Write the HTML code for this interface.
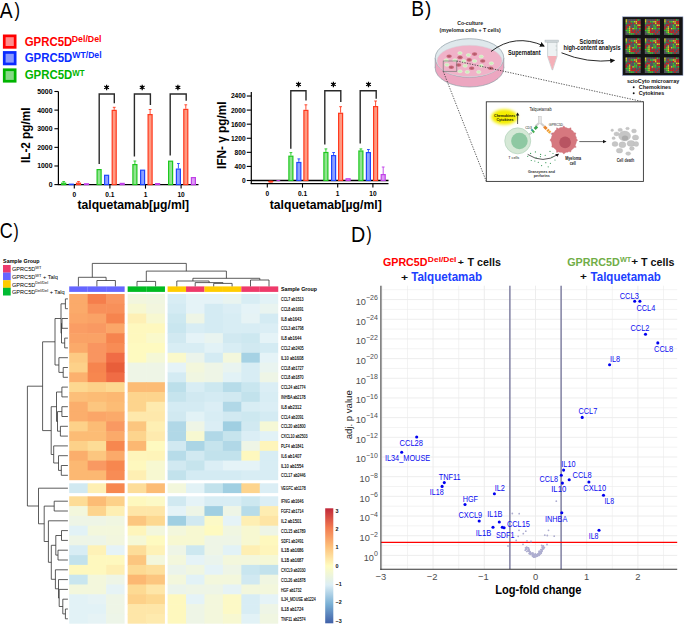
<!DOCTYPE html>
<html><head><meta charset="utf-8"><style>
html,body{margin:0;padding:0;background:#fff;}
body{width:685px;height:624px;overflow:hidden;}
svg{display:block;font-family:"Liberation Sans", sans-serif;}
</style></head><body>
<svg width="685" height="624" viewBox="0 0 685 624">
<text x="0" y="0" font-size="22.09" fill="#000" transform="translate(-0.24,17.50) scale(0.8737,1)">A</text>
<text x="0" y="0" font-size="19.88" fill="#000" transform="translate(14.50,17.40) scale(0.8346,1)">)</text>
<rect x="4.25" y="35.85" width="10.90" height="11.50" fill="#ff8c8c" stroke="#ff0000" stroke-width="2.7"/>
<text x="0" y="0" font-size="13.23" fill="#ff0000" font-weight="bold" transform="translate(24.73,45.80) scale(0.8644,1)">GPRC5D</text>
<text x="0" y="0" font-size="8.43" fill="#ff0000" font-weight="bold" transform="translate(71.71,41.60) scale(1.0467,1)">Del/Del</text>
<rect x="4.25" y="52.45" width="10.90" height="11.50" fill="#8a9aff" stroke="#0a2cff" stroke-width="2.7"/>
<text x="0" y="0" font-size="13.23" fill="#0a2cff" font-weight="bold" transform="translate(24.73,62.10) scale(0.8644,1)">GPRC5D</text>
<text x="0" y="0" font-size="8.43" fill="#0a2cff" font-weight="bold" transform="translate(72.29,58.00) scale(1.0264,1)">WT/Del</text>
<rect x="4.25" y="69.75" width="10.90" height="11.50" fill="#86d886" stroke="#00b400" stroke-width="2.7"/>
<text x="0" y="0" font-size="13.23" fill="#00b400" font-weight="bold" transform="translate(24.73,79.40) scale(0.8644,1)">GPRC5D</text>
<text x="0" y="0" font-size="8.43" fill="#00b400" font-weight="bold" transform="translate(72.29,75.90) scale(0.9379,1)">WT</text>
<line x1="58.40" y1="91.50" x2="58.40" y2="185.10" stroke="#000" stroke-width="1.2"/>
<line x1="57.80" y1="184.60" x2="198.50" y2="184.60" stroke="#000" stroke-width="1.3"/>
<line x1="54.40" y1="184.60" x2="58.40" y2="184.60" stroke="#000" stroke-width="1.1"/>
<text x="52.50" y="187.00" font-size="6.9" fill="#000" font-weight="bold" text-anchor="end">0</text>
<line x1="54.40" y1="165.98" x2="58.40" y2="165.98" stroke="#000" stroke-width="1.1"/>
<text x="52.50" y="168.38" font-size="6.9" fill="#000" font-weight="bold" text-anchor="end">1000</text>
<line x1="54.40" y1="147.36" x2="58.40" y2="147.36" stroke="#000" stroke-width="1.1"/>
<text x="52.50" y="149.76" font-size="6.9" fill="#000" font-weight="bold" text-anchor="end">2000</text>
<line x1="54.40" y1="128.74" x2="58.40" y2="128.74" stroke="#000" stroke-width="1.1"/>
<text x="52.50" y="131.14" font-size="6.9" fill="#000" font-weight="bold" text-anchor="end">3000</text>
<line x1="54.40" y1="110.12" x2="58.40" y2="110.12" stroke="#000" stroke-width="1.1"/>
<text x="52.50" y="112.52" font-size="6.9" fill="#000" font-weight="bold" text-anchor="end">4000</text>
<line x1="54.40" y1="91.50" x2="58.40" y2="91.50" stroke="#000" stroke-width="1.1"/>
<text x="52.50" y="93.90" font-size="6.9" fill="#000" font-weight="bold" text-anchor="end">5000</text>
<line x1="74.30" y1="184.60" x2="74.30" y2="188.60" stroke="#000" stroke-width="1.1"/>
<text x="74.30" y="196.50" font-size="6.6" fill="#000" font-weight="bold" text-anchor="middle">0</text>
<line x1="109.90" y1="184.60" x2="109.90" y2="188.60" stroke="#000" stroke-width="1.1"/>
<text x="109.90" y="196.50" font-size="6.6" fill="#000" font-weight="bold" text-anchor="middle">0.1</text>
<line x1="145.50" y1="184.60" x2="145.50" y2="188.60" stroke="#000" stroke-width="1.1"/>
<text x="145.50" y="196.50" font-size="6.6" fill="#000" font-weight="bold" text-anchor="middle">1</text>
<line x1="181.10" y1="184.60" x2="181.10" y2="188.60" stroke="#000" stroke-width="1.1"/>
<text x="181.10" y="196.50" font-size="6.6" fill="#000" font-weight="bold" text-anchor="middle">10</text>
<text x="0" y="0" font-size="11.92" fill="#000" font-weight="bold" transform="translate(77.45,209.20) scale(1.0212,1)">talquetamab[µg/ml]</text>
<text x="0" y="0" font-size="12.94" fill="#000" font-weight="bold" transform="translate(30.10,162.99) rotate(-90) scale(0.9072,1)">IL-2 pg/ml</text>
<rect x="61.70" y="183.20" width="4.00" height="1.40" fill="#8fe48f" stroke="#1ec81e" stroke-width="1.2"/>
<line x1="63.70" y1="182.60" x2="63.70" y2="181.60" stroke="#1ec81e" stroke-width="0.9"/>
<line x1="62.30" y1="181.60" x2="65.10" y2="181.60" stroke="#1ec81e" stroke-width="0.9"/>
<rect x="69.30" y="184.20" width="4.00" height="0.40" fill="#8da0ff" stroke="#1f46ff" stroke-width="1.2"/>
<rect x="76.50" y="183.20" width="4.00" height="1.40" fill="#ff9a82" stroke="#ff3a1e" stroke-width="1.2"/>
<line x1="78.50" y1="182.60" x2="78.50" y2="181.60" stroke="#ff3a1e" stroke-width="0.9"/>
<line x1="77.10" y1="181.60" x2="79.90" y2="181.60" stroke="#ff3a1e" stroke-width="0.9"/>
<rect x="84.50" y="183.80" width="4.00" height="0.80" fill="#dc9cf4" stroke="#c040e8" stroke-width="1.2"/>
<rect x="97.10" y="169.60" width="4.00" height="15.00" fill="#8fe48f" stroke="#1ec81e" stroke-width="1.2"/>
<rect x="104.60" y="175.30" width="4.00" height="9.30" fill="#8da0ff" stroke="#1f46ff" stroke-width="1.2"/>
<rect x="112.20" y="110.40" width="4.00" height="74.20" fill="#ff9a82" stroke="#ff3a1e" stroke-width="1.2"/>
<line x1="114.20" y1="109.80" x2="114.20" y2="107.30" stroke="#ff3a1e" stroke-width="0.9"/>
<line x1="112.80" y1="107.30" x2="115.60" y2="107.30" stroke="#ff3a1e" stroke-width="0.9"/>
<rect x="120.20" y="183.40" width="4.00" height="1.20" fill="#dc9cf4" stroke="#c040e8" stroke-width="1.2"/>
<rect x="132.90" y="164.60" width="4.00" height="20.00" fill="#8fe48f" stroke="#1ec81e" stroke-width="1.2"/>
<line x1="134.90" y1="164.00" x2="134.90" y2="161.00" stroke="#1ec81e" stroke-width="0.9"/>
<line x1="133.50" y1="161.00" x2="136.30" y2="161.00" stroke="#1ec81e" stroke-width="0.9"/>
<rect x="140.60" y="170.20" width="4.00" height="14.40" fill="#8da0ff" stroke="#1f46ff" stroke-width="1.2"/>
<rect x="148.10" y="114.60" width="4.00" height="70.00" fill="#ff9a82" stroke="#ff3a1e" stroke-width="1.2"/>
<line x1="150.10" y1="114.00" x2="150.10" y2="109.50" stroke="#ff3a1e" stroke-width="0.9"/>
<line x1="148.70" y1="109.50" x2="151.50" y2="109.50" stroke="#ff3a1e" stroke-width="0.9"/>
<rect x="155.60" y="183.60" width="4.00" height="1.00" fill="#dc9cf4" stroke="#c040e8" stroke-width="1.2"/>
<rect x="168.60" y="161.20" width="4.00" height="23.40" fill="#8fe48f" stroke="#1ec81e" stroke-width="1.2"/>
<rect x="176.40" y="169.10" width="4.00" height="15.50" fill="#8da0ff" stroke="#1f46ff" stroke-width="1.2"/>
<line x1="178.40" y1="168.50" x2="178.40" y2="163.50" stroke="#1f46ff" stroke-width="0.9"/>
<line x1="177.00" y1="163.50" x2="179.80" y2="163.50" stroke="#1f46ff" stroke-width="0.9"/>
<rect x="183.80" y="109.40" width="4.00" height="75.20" fill="#ff9a82" stroke="#ff3a1e" stroke-width="1.2"/>
<line x1="185.80" y1="108.80" x2="185.80" y2="104.80" stroke="#ff3a1e" stroke-width="0.9"/>
<line x1="184.40" y1="104.80" x2="187.20" y2="104.80" stroke="#ff3a1e" stroke-width="0.9"/>
<rect x="191.40" y="177.60" width="4.00" height="7.00" fill="#dc9cf4" stroke="#c040e8" stroke-width="1.2"/>
<path d="M99.2,164.0 V94.0 H114.3 V103.3" stroke="#2a2a2a" stroke-width="1.4" fill="none"/>
<path d="M106.60,84.65 L106.60,90.15 M108.98,86.03 L104.22,88.78 M108.98,88.78 L104.22,86.03 " stroke="#000" stroke-width="1.25" fill="none"/>
<circle cx="106.60" cy="87.40" r="1.3" fill="#000"/>
<path d="M134.4,156.5 V94.0 H150.4 V105.0" stroke="#2a2a2a" stroke-width="1.4" fill="none"/>
<path d="M142.20,84.65 L142.20,90.15 M144.58,86.03 L139.82,88.78 M144.58,88.78 L139.82,86.03 " stroke="#000" stroke-width="1.25" fill="none"/>
<circle cx="142.20" cy="87.40" r="1.3" fill="#000"/>
<path d="M170.2,155.5 V94.0 H186.2 V100.8" stroke="#2a2a2a" stroke-width="1.4" fill="none"/>
<path d="M177.90,84.65 L177.90,90.15 M180.28,86.03 L175.52,88.78 M180.28,88.78 L175.52,86.03 " stroke="#000" stroke-width="1.25" fill="none"/>
<circle cx="177.90" cy="87.40" r="1.3" fill="#000"/>
<line x1="251.30" y1="92.00" x2="251.30" y2="184.10" stroke="#000" stroke-width="1.2"/>
<line x1="250.70" y1="183.60" x2="388.50" y2="183.60" stroke="#000" stroke-width="1.2"/>
<line x1="251.30" y1="180.50" x2="388.50" y2="180.50" stroke="#000" stroke-width="1.5"/>
<line x1="246.80" y1="180.50" x2="251.30" y2="180.50" stroke="#000" stroke-width="1.1"/>
<text x="245.60" y="182.90" font-size="6.6" fill="#000" font-weight="bold" text-anchor="end">0</text>
<line x1="246.80" y1="166.42" x2="251.30" y2="166.42" stroke="#000" stroke-width="1.1"/>
<text x="245.60" y="168.82" font-size="6.6" fill="#000" font-weight="bold" text-anchor="end">400</text>
<line x1="246.80" y1="152.34" x2="251.30" y2="152.34" stroke="#000" stroke-width="1.1"/>
<text x="245.60" y="154.74" font-size="6.6" fill="#000" font-weight="bold" text-anchor="end">800</text>
<line x1="246.80" y1="138.26" x2="251.30" y2="138.26" stroke="#000" stroke-width="1.1"/>
<text x="245.60" y="140.66" font-size="6.6" fill="#000" font-weight="bold" text-anchor="end">1200</text>
<line x1="246.80" y1="124.18" x2="251.30" y2="124.18" stroke="#000" stroke-width="1.1"/>
<text x="245.60" y="126.58" font-size="6.6" fill="#000" font-weight="bold" text-anchor="end">1600</text>
<line x1="246.80" y1="110.10" x2="251.30" y2="110.10" stroke="#000" stroke-width="1.1"/>
<text x="245.60" y="112.50" font-size="6.6" fill="#000" font-weight="bold" text-anchor="end">2000</text>
<line x1="246.80" y1="96.02" x2="251.30" y2="96.02" stroke="#000" stroke-width="1.1"/>
<text x="245.60" y="98.42" font-size="6.6" fill="#000" font-weight="bold" text-anchor="end">2400</text>
<line x1="267.30" y1="183.60" x2="267.30" y2="187.60" stroke="#000" stroke-width="1.1"/>
<text x="267.30" y="195.50" font-size="6.6" fill="#000" font-weight="bold" text-anchor="middle">0</text>
<line x1="302.50" y1="183.60" x2="302.50" y2="187.60" stroke="#000" stroke-width="1.1"/>
<text x="302.50" y="195.50" font-size="6.6" fill="#000" font-weight="bold" text-anchor="middle">0.1</text>
<line x1="337.70" y1="183.60" x2="337.70" y2="187.60" stroke="#000" stroke-width="1.1"/>
<text x="337.70" y="195.50" font-size="6.6" fill="#000" font-weight="bold" text-anchor="middle">1</text>
<line x1="372.90" y1="183.60" x2="372.90" y2="187.60" stroke="#000" stroke-width="1.1"/>
<text x="372.90" y="195.50" font-size="6.6" fill="#000" font-weight="bold" text-anchor="middle">10</text>
<text x="0" y="0" font-size="11.92" fill="#000" font-weight="bold" transform="translate(269.75,208.50) scale(1.0231,1)">talquetamab[µg/ml]</text>
<text x="0" y="0" font-size="12.94" fill="#000" font-weight="bold" transform="translate(226.00,168.89) rotate(-90) scale(0.9095,1)">IFN- γ pg/ml</text>
<rect x="288.90" y="156.20" width="4.00" height="24.30" fill="#8fe48f" stroke="#1ec81e" stroke-width="1.2"/>
<line x1="290.90" y1="155.60" x2="290.90" y2="152.60" stroke="#1ec81e" stroke-width="0.9"/>
<line x1="289.50" y1="152.60" x2="292.30" y2="152.60" stroke="#1ec81e" stroke-width="0.9"/>
<rect x="296.85" y="162.50" width="4.00" height="18.00" fill="#8da0ff" stroke="#1f46ff" stroke-width="1.2"/>
<line x1="298.85" y1="161.90" x2="298.85" y2="158.90" stroke="#1f46ff" stroke-width="0.9"/>
<line x1="297.45" y1="158.90" x2="300.25" y2="158.90" stroke="#1f46ff" stroke-width="0.9"/>
<rect x="303.90" y="110.40" width="4.00" height="70.10" fill="#ff9a82" stroke="#ff3a1e" stroke-width="1.2"/>
<line x1="305.90" y1="109.80" x2="305.90" y2="104.80" stroke="#ff3a1e" stroke-width="0.9"/>
<line x1="304.50" y1="104.80" x2="307.30" y2="104.80" stroke="#ff3a1e" stroke-width="0.9"/>
<rect x="323.90" y="152.50" width="4.00" height="28.00" fill="#8fe48f" stroke="#1ec81e" stroke-width="1.2"/>
<line x1="325.90" y1="151.90" x2="325.90" y2="148.90" stroke="#1ec81e" stroke-width="0.9"/>
<line x1="324.50" y1="148.90" x2="327.30" y2="148.90" stroke="#1ec81e" stroke-width="0.9"/>
<rect x="331.60" y="155.60" width="4.00" height="24.90" fill="#8da0ff" stroke="#1f46ff" stroke-width="1.2"/>
<line x1="333.60" y1="155.00" x2="333.60" y2="152.50" stroke="#1f46ff" stroke-width="0.9"/>
<line x1="332.20" y1="152.50" x2="335.00" y2="152.50" stroke="#1f46ff" stroke-width="0.9"/>
<rect x="338.60" y="113.30" width="4.00" height="67.20" fill="#ff9a82" stroke="#ff3a1e" stroke-width="1.2"/>
<line x1="340.60" y1="112.70" x2="340.60" y2="106.70" stroke="#ff3a1e" stroke-width="0.9"/>
<line x1="339.20" y1="106.70" x2="342.00" y2="106.70" stroke="#ff3a1e" stroke-width="0.9"/>
<rect x="346.10" y="178.80" width="4.00" height="1.70" fill="#dc9cf4" stroke="#c040e8" stroke-width="1.2"/>
<rect x="358.90" y="151.00" width="4.00" height="29.50" fill="#8fe48f" stroke="#1ec81e" stroke-width="1.2"/>
<line x1="360.90" y1="150.40" x2="360.90" y2="148.90" stroke="#1ec81e" stroke-width="0.9"/>
<line x1="359.50" y1="148.90" x2="362.30" y2="148.90" stroke="#1ec81e" stroke-width="0.9"/>
<rect x="366.40" y="152.60" width="4.00" height="27.90" fill="#8da0ff" stroke="#1f46ff" stroke-width="1.2"/>
<line x1="368.40" y1="152.00" x2="368.40" y2="149.50" stroke="#1f46ff" stroke-width="0.9"/>
<line x1="367.00" y1="149.50" x2="369.80" y2="149.50" stroke="#1f46ff" stroke-width="0.9"/>
<rect x="373.60" y="106.60" width="4.00" height="73.90" fill="#ff9a82" stroke="#ff3a1e" stroke-width="1.2"/>
<line x1="375.60" y1="106.00" x2="375.60" y2="101.00" stroke="#ff3a1e" stroke-width="0.9"/>
<line x1="374.20" y1="101.00" x2="377.00" y2="101.00" stroke="#ff3a1e" stroke-width="0.9"/>
<rect x="381.20" y="174.60" width="4.00" height="5.90" fill="#dc9cf4" stroke="#c040e8" stroke-width="1.2"/>
<line x1="383.20" y1="174.00" x2="383.20" y2="167.00" stroke="#c040e8" stroke-width="0.9"/>
<line x1="381.80" y1="167.00" x2="384.60" y2="167.00" stroke="#c040e8" stroke-width="0.9"/>
<ellipse cx="270.8" cy="181.6" rx="2.8" ry="1.2" fill="#ff3a1e"/>
<ellipse cx="278.3" cy="180.6" rx="2.2" ry="0.7" fill="#c040e8"/>
<path d="M290.8,148.8 V90.8 H306.0 V100.4" stroke="#2a2a2a" stroke-width="1.4" fill="none"/>
<path d="M298.50,81.65 L298.50,87.15 M300.88,83.03 L296.12,85.78 M300.88,85.78 L296.12,83.03 " stroke="#000" stroke-width="1.25" fill="none"/>
<circle cx="298.50" cy="84.40" r="1.3" fill="#000"/>
<path d="M324.8,144.6 V90.8 H340.8 V101.9" stroke="#2a2a2a" stroke-width="1.4" fill="none"/>
<path d="M333.40,81.65 L333.40,87.15 M335.78,83.03 L331.02,85.78 M335.78,85.78 L331.02,83.03 " stroke="#000" stroke-width="1.25" fill="none"/>
<circle cx="333.40" cy="84.40" r="1.3" fill="#000"/>
<path d="M360.2,143.5 V90.8 H376.2 V98.8" stroke="#2a2a2a" stroke-width="1.4" fill="none"/>
<path d="M368.50,81.65 L368.50,87.15 M370.88,83.03 L366.12,85.78 M370.88,85.78 L366.12,83.03 " stroke="#000" stroke-width="1.25" fill="none"/>
<circle cx="368.50" cy="84.40" r="1.3" fill="#000"/>
<text x="0" y="0" font-size="21.66" fill="#000" transform="translate(411.33,16.40) scale(0.8849,1)">B</text>
<text x="0" y="0" font-size="19.92" fill="#000" transform="translate(424.99,16.20) scale(0.9465,1)">)</text>
<text x="470.20" y="25.30" font-size="5.6" fill="#222" font-weight="bold" text-anchor="middle" textLength="26.0" lengthAdjust="spacingAndGlyphs">Co-culture</text>
<text x="470.20" y="31.60" font-size="5.6" fill="#222" font-weight="bold" text-anchor="middle" textLength="61.3" lengthAdjust="spacingAndGlyphs">(myeloma cells + T cells)</text>
<ellipse cx="469.5" cy="68" rx="34.3" ry="19" fill="#eca6c0" stroke="#8f9ea6" stroke-width="0.7"/>
<rect x="435.2" y="58" width="68.6" height="10" fill="#eca6c0"/>
<line x1="435.20" y1="58.00" x2="435.20" y2="68.00" stroke="#8f9ea6" stroke-width="0.7"/>
<line x1="503.80" y1="58.00" x2="503.80" y2="68.00" stroke="#8f9ea6" stroke-width="0.7"/>
<ellipse cx="469.5" cy="58" rx="34.3" ry="19.3" fill="#dfe8ec" stroke="#8f9ea6" stroke-width="0.7"/>
<ellipse cx="469.5" cy="61" rx="32.6" ry="15.8" fill="#f0b2c8" stroke="#d0d8dc" stroke-width="0.5"/>
<ellipse cx="449.1" cy="56.3" rx="2.7" ry="1.8" fill="#c8687a"/><ellipse cx="449.1" cy="56.3" rx="1.3" ry="0.8" fill="#b05868"/>
<ellipse cx="460" cy="57.4" rx="2.7" ry="1.8" fill="#c8687a"/><ellipse cx="460" cy="57.4" rx="1.3" ry="0.8" fill="#b05868"/>
<ellipse cx="474.6" cy="54.1" rx="2.7" ry="1.8" fill="#c8687a"/><ellipse cx="474.6" cy="54.1" rx="1.3" ry="0.8" fill="#b05868"/>
<ellipse cx="469.2" cy="59.9" rx="2.7" ry="1.8" fill="#c8687a"/><ellipse cx="469.2" cy="59.9" rx="1.3" ry="0.8" fill="#b05868"/>
<ellipse cx="482.7" cy="61" rx="2.7" ry="1.8" fill="#c8687a"/><ellipse cx="482.7" cy="61" rx="1.3" ry="0.8" fill="#b05868"/>
<ellipse cx="458.6" cy="65" rx="2.7" ry="1.8" fill="#c8687a"/><ellipse cx="458.6" cy="65" rx="1.3" ry="0.8" fill="#b05868"/>
<ellipse cx="451.3" cy="67.2" rx="2.7" ry="1.8" fill="#c8687a"/><ellipse cx="451.3" cy="67.2" rx="1.3" ry="0.8" fill="#b05868"/>
<ellipse cx="471.7" cy="68.2" rx="2.7" ry="1.8" fill="#c8687a"/><ellipse cx="471.7" cy="68.2" rx="1.3" ry="0.8" fill="#b05868"/>
<ellipse cx="490.7" cy="68.2" rx="2.7" ry="1.8" fill="#c8687a"/><ellipse cx="490.7" cy="68.2" rx="1.3" ry="0.8" fill="#b05868"/>
<ellipse cx="460" cy="53.1" rx="2.2" ry="1.5" fill="#cdeebc" stroke="#e8f8e0" stroke-width="0.5"/>
<ellipse cx="468.4" cy="55.1" rx="2.2" ry="1.5" fill="#cdeebc" stroke="#e8f8e0" stroke-width="0.5"/>
<ellipse cx="481.2" cy="56.6" rx="2.2" ry="1.5" fill="#cdeebc" stroke="#e8f8e0" stroke-width="0.5"/>
<ellipse cx="446.2" cy="60.2" rx="2.2" ry="1.5" fill="#cdeebc" stroke="#e8f8e0" stroke-width="0.5"/>
<ellipse cx="454.9" cy="60.2" rx="2.2" ry="1.5" fill="#cdeebc" stroke="#e8f8e0" stroke-width="0.5"/>
<ellipse cx="463.7" cy="61.1" rx="2.2" ry="1.5" fill="#cdeebc" stroke="#e8f8e0" stroke-width="0.5"/>
<ellipse cx="474.6" cy="61.1" rx="2.2" ry="1.5" fill="#cdeebc" stroke="#e8f8e0" stroke-width="0.5"/>
<ellipse cx="491.4" cy="63.3" rx="2.2" ry="1.5" fill="#cdeebc" stroke="#e8f8e0" stroke-width="0.5"/>
<ellipse cx="446.9" cy="64.7" rx="2.2" ry="1.5" fill="#cdeebc" stroke="#e8f8e0" stroke-width="0.5"/>
<ellipse cx="465.1" cy="65.8" rx="2.2" ry="1.5" fill="#cdeebc" stroke="#e8f8e0" stroke-width="0.5"/>
<ellipse cx="481.2" cy="65.8" rx="2.2" ry="1.5" fill="#cdeebc" stroke="#e8f8e0" stroke-width="0.5"/>
<ellipse cx="460" cy="71.3" rx="2.2" ry="1.5" fill="#cdeebc" stroke="#e8f8e0" stroke-width="0.5"/>
<ellipse cx="467.3" cy="71.9" rx="2.2" ry="1.5" fill="#cdeebc" stroke="#e8f8e0" stroke-width="0.5"/>
<ellipse cx="478.7" cy="71.9" rx="2.2" ry="1.5" fill="#cdeebc" stroke="#e8f8e0" stroke-width="0.5"/>
<rect x="443.20" y="61.00" width="13.60" height="10.30" fill="none" stroke="#777" stroke-width="0.7"/>
<line x1="456.80" y1="61.00" x2="643.40" y2="101.80" stroke="#333" stroke-width="0.8" stroke-dasharray="1.3,1.3"/>
<line x1="443.20" y1="71.30" x2="486.30" y2="181.40" stroke="#333" stroke-width="0.8" stroke-dasharray="1.3,1.3"/>
<defs><marker id="ah" markerWidth="6" markerHeight="6" refX="4" refY="3" orient="auto" markerUnits="userSpaceOnUse"><path d="M0,0.5 L5,3 L0,5.5 z" fill="#111"/></marker></defs>
<path d="M491,51.5 Q515,33 544,46" stroke="#111" stroke-width="0.9" fill="none" marker-end="url(#ah)"/>
<text x="0" y="0" font-size="6.54" fill="#111" font-weight="bold" transform="translate(508.04,54.60) scale(0.8525,1)">Supernatant</text>
<path d="M547.6,42 H557 V56.5 L552.6,70 H552.2 L547.6,56.5 Z" stroke="#b0babe" stroke-width="0.6" fill="#eef2f3"/>
<path d="M547.9,56 H556.7 V56.6 L552.5,69.6 H552.3 L547.9,56.6 Z" stroke="none" stroke-width="0" fill="#f4b0b8"/>
<rect x="545.00" y="40.10" width="13.30" height="2.00" fill="#d4dadd" stroke="#a8b2b6" stroke-width="0.5"/>
<line x1="555.50" y1="46.00" x2="557.00" y2="46.00" stroke="#9aa" stroke-width="0.4"/>
<line x1="555.50" y1="50.00" x2="557.00" y2="50.00" stroke="#9aa" stroke-width="0.4"/>
<text x="0" y="0" font-size="6.54" fill="#111" font-weight="bold" transform="translate(579.54,43.70) scale(0.8456,1)">Sciomics</text>
<text x="0" y="0" font-size="6.40" fill="#111" font-weight="bold" transform="translate(563.51,49.80) scale(0.8688,1)">high-content analysis</text>
<path d="M561.5,52.8 Q587,63.5 614.2,60.4" stroke="#111" stroke-width="0.9" fill="none" marker-end="url(#ah)"/>
<rect x="622.50" y="16.80" width="60.50" height="58.70" fill="#141414" stroke="#9fb0d8" stroke-width="0.6"/>
<rect x="625.50" y="19.20" width="15.10" height="15.60" fill="#505058"/>
<rect x="625.65" y="19.35" width="1.40" height="1.45" fill="#dcd820"/>
<rect x="627.33" y="19.35" width="1.40" height="1.45" fill="#5a5a62"/>
<rect x="629.01" y="19.35" width="1.40" height="1.45" fill="#5a5a62"/>
<rect x="630.69" y="19.35" width="1.40" height="1.45" fill="#5a5a62"/>
<rect x="632.37" y="19.35" width="1.40" height="1.45" fill="#5a5a62"/>
<rect x="634.05" y="19.35" width="1.40" height="1.45" fill="#5a5a62"/>
<rect x="635.73" y="19.35" width="1.40" height="1.45" fill="#e01818"/>
<rect x="637.41" y="19.35" width="1.40" height="1.45" fill="#38d030"/>
<rect x="639.09" y="19.35" width="1.40" height="1.45" fill="#5a5a62"/>
<rect x="625.65" y="21.08" width="1.40" height="1.45" fill="#dcd820"/>
<rect x="627.33" y="21.08" width="1.40" height="1.45" fill="#5a5a62"/>
<rect x="629.01" y="21.08" width="1.40" height="1.45" fill="#e01818"/>
<rect x="630.69" y="21.08" width="1.40" height="1.45" fill="#38d030"/>
<rect x="632.37" y="21.08" width="1.40" height="1.45" fill="#38d030"/>
<rect x="634.05" y="21.08" width="1.40" height="1.45" fill="#dcd820"/>
<rect x="635.73" y="21.08" width="1.40" height="1.45" fill="#dcd820"/>
<rect x="637.41" y="21.08" width="1.40" height="1.45" fill="#e01818"/>
<rect x="639.09" y="21.08" width="1.40" height="1.45" fill="#e01818"/>
<rect x="625.65" y="22.81" width="1.40" height="1.45" fill="#38d030"/>
<rect x="627.33" y="22.81" width="1.40" height="1.45" fill="#5a5a62"/>
<rect x="629.01" y="22.81" width="1.40" height="1.45" fill="#5a5a62"/>
<rect x="630.69" y="22.81" width="1.40" height="1.45" fill="#e01818"/>
<rect x="632.37" y="22.81" width="1.40" height="1.45" fill="#5a5a62"/>
<rect x="634.05" y="22.81" width="1.40" height="1.45" fill="#e01818"/>
<rect x="635.73" y="22.81" width="1.40" height="1.45" fill="#dcd820"/>
<rect x="637.41" y="22.81" width="1.40" height="1.45" fill="#e01818"/>
<rect x="639.09" y="22.81" width="1.40" height="1.45" fill="#e01818"/>
<rect x="625.65" y="24.54" width="1.40" height="1.45" fill="#5a5a62"/>
<rect x="627.33" y="24.54" width="1.40" height="1.45" fill="#e01818"/>
<rect x="629.01" y="24.54" width="1.40" height="1.45" fill="#e01818"/>
<rect x="630.69" y="24.54" width="1.40" height="1.45" fill="#5a5a62"/>
<rect x="632.37" y="24.54" width="1.40" height="1.45" fill="#5a5a62"/>
<rect x="634.05" y="24.54" width="1.40" height="1.45" fill="#38d030"/>
<rect x="635.73" y="24.54" width="1.40" height="1.45" fill="#5a5a62"/>
<rect x="637.41" y="24.54" width="1.40" height="1.45" fill="#dcd820"/>
<rect x="639.09" y="24.54" width="1.40" height="1.45" fill="#dcd820"/>
<rect x="625.65" y="26.27" width="1.40" height="1.45" fill="#e01818"/>
<rect x="627.33" y="26.27" width="1.40" height="1.45" fill="#5a5a62"/>
<rect x="629.01" y="26.27" width="1.40" height="1.45" fill="#dcd820"/>
<rect x="630.69" y="26.27" width="1.40" height="1.45" fill="#5a5a62"/>
<rect x="632.37" y="26.27" width="1.40" height="1.45" fill="#5a5a62"/>
<rect x="634.05" y="26.27" width="1.40" height="1.45" fill="#38d030"/>
<rect x="635.73" y="26.27" width="1.40" height="1.45" fill="#38d030"/>
<rect x="637.41" y="26.27" width="1.40" height="1.45" fill="#e01818"/>
<rect x="639.09" y="26.27" width="1.40" height="1.45" fill="#e01818"/>
<rect x="625.65" y="28.00" width="1.40" height="1.45" fill="#e01818"/>
<rect x="627.33" y="28.00" width="1.40" height="1.45" fill="#38d030"/>
<rect x="629.01" y="28.00" width="1.40" height="1.45" fill="#dcd820"/>
<rect x="630.69" y="28.00" width="1.40" height="1.45" fill="#e01818"/>
<rect x="632.37" y="28.00" width="1.40" height="1.45" fill="#dcd820"/>
<rect x="634.05" y="28.00" width="1.40" height="1.45" fill="#38d030"/>
<rect x="635.73" y="28.00" width="1.40" height="1.45" fill="#38d030"/>
<rect x="637.41" y="28.00" width="1.40" height="1.45" fill="#5a5a62"/>
<rect x="639.09" y="28.00" width="1.40" height="1.45" fill="#38d030"/>
<rect x="625.65" y="29.73" width="1.40" height="1.45" fill="#38d030"/>
<rect x="627.33" y="29.73" width="1.40" height="1.45" fill="#38d030"/>
<rect x="629.01" y="29.73" width="1.40" height="1.45" fill="#dcd820"/>
<rect x="630.69" y="29.73" width="1.40" height="1.45" fill="#e01818"/>
<rect x="632.37" y="29.73" width="1.40" height="1.45" fill="#5a5a62"/>
<rect x="634.05" y="29.73" width="1.40" height="1.45" fill="#e01818"/>
<rect x="635.73" y="29.73" width="1.40" height="1.45" fill="#5a5a62"/>
<rect x="637.41" y="29.73" width="1.40" height="1.45" fill="#5a5a62"/>
<rect x="639.09" y="29.73" width="1.40" height="1.45" fill="#e01818"/>
<rect x="625.65" y="31.46" width="1.40" height="1.45" fill="#5a5a62"/>
<rect x="627.33" y="31.46" width="1.40" height="1.45" fill="#38d030"/>
<rect x="629.01" y="31.46" width="1.40" height="1.45" fill="#dcd820"/>
<rect x="630.69" y="31.46" width="1.40" height="1.45" fill="#e01818"/>
<rect x="632.37" y="31.46" width="1.40" height="1.45" fill="#e01818"/>
<rect x="634.05" y="31.46" width="1.40" height="1.45" fill="#e01818"/>
<rect x="635.73" y="31.46" width="1.40" height="1.45" fill="#5a5a62"/>
<rect x="637.41" y="31.46" width="1.40" height="1.45" fill="#e01818"/>
<rect x="639.09" y="31.46" width="1.40" height="1.45" fill="#5a5a62"/>
<rect x="625.65" y="33.19" width="1.40" height="1.45" fill="#5a5a62"/>
<rect x="627.33" y="33.19" width="1.40" height="1.45" fill="#5a5a62"/>
<rect x="629.01" y="33.19" width="1.40" height="1.45" fill="#38d030"/>
<rect x="630.69" y="33.19" width="1.40" height="1.45" fill="#38d030"/>
<rect x="632.37" y="33.19" width="1.40" height="1.45" fill="#38d030"/>
<rect x="634.05" y="33.19" width="1.40" height="1.45" fill="#5a5a62"/>
<rect x="635.73" y="33.19" width="1.40" height="1.45" fill="#e01818"/>
<rect x="637.41" y="33.19" width="1.40" height="1.45" fill="#5a5a62"/>
<rect x="639.09" y="33.19" width="1.40" height="1.45" fill="#5a5a62"/>
<rect x="644.80" y="19.20" width="15.10" height="15.60" fill="#505058"/>
<rect x="644.95" y="19.35" width="1.40" height="1.45" fill="#dcd820"/>
<rect x="646.63" y="19.35" width="1.40" height="1.45" fill="#5a5a62"/>
<rect x="648.31" y="19.35" width="1.40" height="1.45" fill="#5a5a62"/>
<rect x="649.99" y="19.35" width="1.40" height="1.45" fill="#5a5a62"/>
<rect x="651.67" y="19.35" width="1.40" height="1.45" fill="#5a5a62"/>
<rect x="653.35" y="19.35" width="1.40" height="1.45" fill="#5a5a62"/>
<rect x="655.03" y="19.35" width="1.40" height="1.45" fill="#e01818"/>
<rect x="656.71" y="19.35" width="1.40" height="1.45" fill="#38d030"/>
<rect x="658.39" y="19.35" width="1.40" height="1.45" fill="#5a5a62"/>
<rect x="644.95" y="21.08" width="1.40" height="1.45" fill="#dcd820"/>
<rect x="646.63" y="21.08" width="1.40" height="1.45" fill="#5a5a62"/>
<rect x="648.31" y="21.08" width="1.40" height="1.45" fill="#e01818"/>
<rect x="649.99" y="21.08" width="1.40" height="1.45" fill="#38d030"/>
<rect x="651.67" y="21.08" width="1.40" height="1.45" fill="#38d030"/>
<rect x="653.35" y="21.08" width="1.40" height="1.45" fill="#dcd820"/>
<rect x="655.03" y="21.08" width="1.40" height="1.45" fill="#dcd820"/>
<rect x="656.71" y="21.08" width="1.40" height="1.45" fill="#e01818"/>
<rect x="658.39" y="21.08" width="1.40" height="1.45" fill="#e01818"/>
<rect x="644.95" y="22.81" width="1.40" height="1.45" fill="#38d030"/>
<rect x="646.63" y="22.81" width="1.40" height="1.45" fill="#5a5a62"/>
<rect x="648.31" y="22.81" width="1.40" height="1.45" fill="#5a5a62"/>
<rect x="649.99" y="22.81" width="1.40" height="1.45" fill="#e01818"/>
<rect x="651.67" y="22.81" width="1.40" height="1.45" fill="#5a5a62"/>
<rect x="653.35" y="22.81" width="1.40" height="1.45" fill="#e01818"/>
<rect x="655.03" y="22.81" width="1.40" height="1.45" fill="#dcd820"/>
<rect x="656.71" y="22.81" width="1.40" height="1.45" fill="#e01818"/>
<rect x="658.39" y="22.81" width="1.40" height="1.45" fill="#e01818"/>
<rect x="644.95" y="24.54" width="1.40" height="1.45" fill="#5a5a62"/>
<rect x="646.63" y="24.54" width="1.40" height="1.45" fill="#e01818"/>
<rect x="648.31" y="24.54" width="1.40" height="1.45" fill="#e01818"/>
<rect x="649.99" y="24.54" width="1.40" height="1.45" fill="#5a5a62"/>
<rect x="651.67" y="24.54" width="1.40" height="1.45" fill="#5a5a62"/>
<rect x="653.35" y="24.54" width="1.40" height="1.45" fill="#38d030"/>
<rect x="655.03" y="24.54" width="1.40" height="1.45" fill="#5a5a62"/>
<rect x="656.71" y="24.54" width="1.40" height="1.45" fill="#dcd820"/>
<rect x="658.39" y="24.54" width="1.40" height="1.45" fill="#dcd820"/>
<rect x="644.95" y="26.27" width="1.40" height="1.45" fill="#e01818"/>
<rect x="646.63" y="26.27" width="1.40" height="1.45" fill="#5a5a62"/>
<rect x="648.31" y="26.27" width="1.40" height="1.45" fill="#dcd820"/>
<rect x="649.99" y="26.27" width="1.40" height="1.45" fill="#5a5a62"/>
<rect x="651.67" y="26.27" width="1.40" height="1.45" fill="#5a5a62"/>
<rect x="653.35" y="26.27" width="1.40" height="1.45" fill="#38d030"/>
<rect x="655.03" y="26.27" width="1.40" height="1.45" fill="#38d030"/>
<rect x="656.71" y="26.27" width="1.40" height="1.45" fill="#e01818"/>
<rect x="658.39" y="26.27" width="1.40" height="1.45" fill="#e01818"/>
<rect x="644.95" y="28.00" width="1.40" height="1.45" fill="#e01818"/>
<rect x="646.63" y="28.00" width="1.40" height="1.45" fill="#38d030"/>
<rect x="648.31" y="28.00" width="1.40" height="1.45" fill="#dcd820"/>
<rect x="649.99" y="28.00" width="1.40" height="1.45" fill="#e01818"/>
<rect x="651.67" y="28.00" width="1.40" height="1.45" fill="#dcd820"/>
<rect x="653.35" y="28.00" width="1.40" height="1.45" fill="#38d030"/>
<rect x="655.03" y="28.00" width="1.40" height="1.45" fill="#38d030"/>
<rect x="656.71" y="28.00" width="1.40" height="1.45" fill="#5a5a62"/>
<rect x="658.39" y="28.00" width="1.40" height="1.45" fill="#38d030"/>
<rect x="644.95" y="29.73" width="1.40" height="1.45" fill="#38d030"/>
<rect x="646.63" y="29.73" width="1.40" height="1.45" fill="#38d030"/>
<rect x="648.31" y="29.73" width="1.40" height="1.45" fill="#dcd820"/>
<rect x="649.99" y="29.73" width="1.40" height="1.45" fill="#e01818"/>
<rect x="651.67" y="29.73" width="1.40" height="1.45" fill="#5a5a62"/>
<rect x="653.35" y="29.73" width="1.40" height="1.45" fill="#e01818"/>
<rect x="655.03" y="29.73" width="1.40" height="1.45" fill="#5a5a62"/>
<rect x="656.71" y="29.73" width="1.40" height="1.45" fill="#5a5a62"/>
<rect x="658.39" y="29.73" width="1.40" height="1.45" fill="#e01818"/>
<rect x="644.95" y="31.46" width="1.40" height="1.45" fill="#5a5a62"/>
<rect x="646.63" y="31.46" width="1.40" height="1.45" fill="#38d030"/>
<rect x="648.31" y="31.46" width="1.40" height="1.45" fill="#dcd820"/>
<rect x="649.99" y="31.46" width="1.40" height="1.45" fill="#e01818"/>
<rect x="651.67" y="31.46" width="1.40" height="1.45" fill="#e01818"/>
<rect x="653.35" y="31.46" width="1.40" height="1.45" fill="#e01818"/>
<rect x="655.03" y="31.46" width="1.40" height="1.45" fill="#5a5a62"/>
<rect x="656.71" y="31.46" width="1.40" height="1.45" fill="#e01818"/>
<rect x="658.39" y="31.46" width="1.40" height="1.45" fill="#5a5a62"/>
<rect x="644.95" y="33.19" width="1.40" height="1.45" fill="#5a5a62"/>
<rect x="646.63" y="33.19" width="1.40" height="1.45" fill="#5a5a62"/>
<rect x="648.31" y="33.19" width="1.40" height="1.45" fill="#38d030"/>
<rect x="649.99" y="33.19" width="1.40" height="1.45" fill="#38d030"/>
<rect x="651.67" y="33.19" width="1.40" height="1.45" fill="#38d030"/>
<rect x="653.35" y="33.19" width="1.40" height="1.45" fill="#5a5a62"/>
<rect x="655.03" y="33.19" width="1.40" height="1.45" fill="#e01818"/>
<rect x="656.71" y="33.19" width="1.40" height="1.45" fill="#5a5a62"/>
<rect x="658.39" y="33.19" width="1.40" height="1.45" fill="#5a5a62"/>
<rect x="664.10" y="19.20" width="15.10" height="15.60" fill="#505058"/>
<rect x="664.25" y="19.35" width="1.40" height="1.45" fill="#dcd820"/>
<rect x="665.93" y="19.35" width="1.40" height="1.45" fill="#5a5a62"/>
<rect x="667.61" y="19.35" width="1.40" height="1.45" fill="#5a5a62"/>
<rect x="669.29" y="19.35" width="1.40" height="1.45" fill="#5a5a62"/>
<rect x="670.97" y="19.35" width="1.40" height="1.45" fill="#5a5a62"/>
<rect x="672.65" y="19.35" width="1.40" height="1.45" fill="#5a5a62"/>
<rect x="674.33" y="19.35" width="1.40" height="1.45" fill="#e01818"/>
<rect x="676.01" y="19.35" width="1.40" height="1.45" fill="#38d030"/>
<rect x="677.69" y="19.35" width="1.40" height="1.45" fill="#5a5a62"/>
<rect x="664.25" y="21.08" width="1.40" height="1.45" fill="#dcd820"/>
<rect x="665.93" y="21.08" width="1.40" height="1.45" fill="#5a5a62"/>
<rect x="667.61" y="21.08" width="1.40" height="1.45" fill="#e01818"/>
<rect x="669.29" y="21.08" width="1.40" height="1.45" fill="#38d030"/>
<rect x="670.97" y="21.08" width="1.40" height="1.45" fill="#38d030"/>
<rect x="672.65" y="21.08" width="1.40" height="1.45" fill="#dcd820"/>
<rect x="674.33" y="21.08" width="1.40" height="1.45" fill="#dcd820"/>
<rect x="676.01" y="21.08" width="1.40" height="1.45" fill="#e01818"/>
<rect x="677.69" y="21.08" width="1.40" height="1.45" fill="#e01818"/>
<rect x="664.25" y="22.81" width="1.40" height="1.45" fill="#38d030"/>
<rect x="665.93" y="22.81" width="1.40" height="1.45" fill="#5a5a62"/>
<rect x="667.61" y="22.81" width="1.40" height="1.45" fill="#5a5a62"/>
<rect x="669.29" y="22.81" width="1.40" height="1.45" fill="#e01818"/>
<rect x="670.97" y="22.81" width="1.40" height="1.45" fill="#5a5a62"/>
<rect x="672.65" y="22.81" width="1.40" height="1.45" fill="#e01818"/>
<rect x="674.33" y="22.81" width="1.40" height="1.45" fill="#dcd820"/>
<rect x="676.01" y="22.81" width="1.40" height="1.45" fill="#e01818"/>
<rect x="677.69" y="22.81" width="1.40" height="1.45" fill="#e01818"/>
<rect x="664.25" y="24.54" width="1.40" height="1.45" fill="#5a5a62"/>
<rect x="665.93" y="24.54" width="1.40" height="1.45" fill="#e01818"/>
<rect x="667.61" y="24.54" width="1.40" height="1.45" fill="#e01818"/>
<rect x="669.29" y="24.54" width="1.40" height="1.45" fill="#5a5a62"/>
<rect x="670.97" y="24.54" width="1.40" height="1.45" fill="#5a5a62"/>
<rect x="672.65" y="24.54" width="1.40" height="1.45" fill="#38d030"/>
<rect x="674.33" y="24.54" width="1.40" height="1.45" fill="#5a5a62"/>
<rect x="676.01" y="24.54" width="1.40" height="1.45" fill="#dcd820"/>
<rect x="677.69" y="24.54" width="1.40" height="1.45" fill="#dcd820"/>
<rect x="664.25" y="26.27" width="1.40" height="1.45" fill="#e01818"/>
<rect x="665.93" y="26.27" width="1.40" height="1.45" fill="#5a5a62"/>
<rect x="667.61" y="26.27" width="1.40" height="1.45" fill="#dcd820"/>
<rect x="669.29" y="26.27" width="1.40" height="1.45" fill="#5a5a62"/>
<rect x="670.97" y="26.27" width="1.40" height="1.45" fill="#5a5a62"/>
<rect x="672.65" y="26.27" width="1.40" height="1.45" fill="#38d030"/>
<rect x="674.33" y="26.27" width="1.40" height="1.45" fill="#38d030"/>
<rect x="676.01" y="26.27" width="1.40" height="1.45" fill="#e01818"/>
<rect x="677.69" y="26.27" width="1.40" height="1.45" fill="#e01818"/>
<rect x="664.25" y="28.00" width="1.40" height="1.45" fill="#e01818"/>
<rect x="665.93" y="28.00" width="1.40" height="1.45" fill="#38d030"/>
<rect x="667.61" y="28.00" width="1.40" height="1.45" fill="#dcd820"/>
<rect x="669.29" y="28.00" width="1.40" height="1.45" fill="#e01818"/>
<rect x="670.97" y="28.00" width="1.40" height="1.45" fill="#dcd820"/>
<rect x="672.65" y="28.00" width="1.40" height="1.45" fill="#38d030"/>
<rect x="674.33" y="28.00" width="1.40" height="1.45" fill="#38d030"/>
<rect x="676.01" y="28.00" width="1.40" height="1.45" fill="#5a5a62"/>
<rect x="677.69" y="28.00" width="1.40" height="1.45" fill="#38d030"/>
<rect x="664.25" y="29.73" width="1.40" height="1.45" fill="#38d030"/>
<rect x="665.93" y="29.73" width="1.40" height="1.45" fill="#38d030"/>
<rect x="667.61" y="29.73" width="1.40" height="1.45" fill="#dcd820"/>
<rect x="669.29" y="29.73" width="1.40" height="1.45" fill="#e01818"/>
<rect x="670.97" y="29.73" width="1.40" height="1.45" fill="#5a5a62"/>
<rect x="672.65" y="29.73" width="1.40" height="1.45" fill="#e01818"/>
<rect x="674.33" y="29.73" width="1.40" height="1.45" fill="#5a5a62"/>
<rect x="676.01" y="29.73" width="1.40" height="1.45" fill="#5a5a62"/>
<rect x="677.69" y="29.73" width="1.40" height="1.45" fill="#e01818"/>
<rect x="664.25" y="31.46" width="1.40" height="1.45" fill="#5a5a62"/>
<rect x="665.93" y="31.46" width="1.40" height="1.45" fill="#38d030"/>
<rect x="667.61" y="31.46" width="1.40" height="1.45" fill="#dcd820"/>
<rect x="669.29" y="31.46" width="1.40" height="1.45" fill="#e01818"/>
<rect x="670.97" y="31.46" width="1.40" height="1.45" fill="#e01818"/>
<rect x="672.65" y="31.46" width="1.40" height="1.45" fill="#e01818"/>
<rect x="674.33" y="31.46" width="1.40" height="1.45" fill="#5a5a62"/>
<rect x="676.01" y="31.46" width="1.40" height="1.45" fill="#e01818"/>
<rect x="677.69" y="31.46" width="1.40" height="1.45" fill="#5a5a62"/>
<rect x="664.25" y="33.19" width="1.40" height="1.45" fill="#5a5a62"/>
<rect x="665.93" y="33.19" width="1.40" height="1.45" fill="#5a5a62"/>
<rect x="667.61" y="33.19" width="1.40" height="1.45" fill="#38d030"/>
<rect x="669.29" y="33.19" width="1.40" height="1.45" fill="#38d030"/>
<rect x="670.97" y="33.19" width="1.40" height="1.45" fill="#38d030"/>
<rect x="672.65" y="33.19" width="1.40" height="1.45" fill="#5a5a62"/>
<rect x="674.33" y="33.19" width="1.40" height="1.45" fill="#e01818"/>
<rect x="676.01" y="33.19" width="1.40" height="1.45" fill="#5a5a62"/>
<rect x="677.69" y="33.19" width="1.40" height="1.45" fill="#5a5a62"/>
<rect x="625.50" y="38.30" width="15.10" height="15.60" fill="#505058"/>
<rect x="625.65" y="38.45" width="1.40" height="1.45" fill="#dcd820"/>
<rect x="627.33" y="38.45" width="1.40" height="1.45" fill="#5a5a62"/>
<rect x="629.01" y="38.45" width="1.40" height="1.45" fill="#5a5a62"/>
<rect x="630.69" y="38.45" width="1.40" height="1.45" fill="#5a5a62"/>
<rect x="632.37" y="38.45" width="1.40" height="1.45" fill="#5a5a62"/>
<rect x="634.05" y="38.45" width="1.40" height="1.45" fill="#5a5a62"/>
<rect x="635.73" y="38.45" width="1.40" height="1.45" fill="#e01818"/>
<rect x="637.41" y="38.45" width="1.40" height="1.45" fill="#38d030"/>
<rect x="639.09" y="38.45" width="1.40" height="1.45" fill="#5a5a62"/>
<rect x="625.65" y="40.18" width="1.40" height="1.45" fill="#dcd820"/>
<rect x="627.33" y="40.18" width="1.40" height="1.45" fill="#5a5a62"/>
<rect x="629.01" y="40.18" width="1.40" height="1.45" fill="#e01818"/>
<rect x="630.69" y="40.18" width="1.40" height="1.45" fill="#38d030"/>
<rect x="632.37" y="40.18" width="1.40" height="1.45" fill="#38d030"/>
<rect x="634.05" y="40.18" width="1.40" height="1.45" fill="#dcd820"/>
<rect x="635.73" y="40.18" width="1.40" height="1.45" fill="#dcd820"/>
<rect x="637.41" y="40.18" width="1.40" height="1.45" fill="#e01818"/>
<rect x="639.09" y="40.18" width="1.40" height="1.45" fill="#e01818"/>
<rect x="625.65" y="41.91" width="1.40" height="1.45" fill="#38d030"/>
<rect x="627.33" y="41.91" width="1.40" height="1.45" fill="#5a5a62"/>
<rect x="629.01" y="41.91" width="1.40" height="1.45" fill="#5a5a62"/>
<rect x="630.69" y="41.91" width="1.40" height="1.45" fill="#e01818"/>
<rect x="632.37" y="41.91" width="1.40" height="1.45" fill="#5a5a62"/>
<rect x="634.05" y="41.91" width="1.40" height="1.45" fill="#e01818"/>
<rect x="635.73" y="41.91" width="1.40" height="1.45" fill="#dcd820"/>
<rect x="637.41" y="41.91" width="1.40" height="1.45" fill="#e01818"/>
<rect x="639.09" y="41.91" width="1.40" height="1.45" fill="#e01818"/>
<rect x="625.65" y="43.64" width="1.40" height="1.45" fill="#5a5a62"/>
<rect x="627.33" y="43.64" width="1.40" height="1.45" fill="#e01818"/>
<rect x="629.01" y="43.64" width="1.40" height="1.45" fill="#e01818"/>
<rect x="630.69" y="43.64" width="1.40" height="1.45" fill="#5a5a62"/>
<rect x="632.37" y="43.64" width="1.40" height="1.45" fill="#5a5a62"/>
<rect x="634.05" y="43.64" width="1.40" height="1.45" fill="#38d030"/>
<rect x="635.73" y="43.64" width="1.40" height="1.45" fill="#5a5a62"/>
<rect x="637.41" y="43.64" width="1.40" height="1.45" fill="#dcd820"/>
<rect x="639.09" y="43.64" width="1.40" height="1.45" fill="#dcd820"/>
<rect x="625.65" y="45.37" width="1.40" height="1.45" fill="#e01818"/>
<rect x="627.33" y="45.37" width="1.40" height="1.45" fill="#5a5a62"/>
<rect x="629.01" y="45.37" width="1.40" height="1.45" fill="#dcd820"/>
<rect x="630.69" y="45.37" width="1.40" height="1.45" fill="#5a5a62"/>
<rect x="632.37" y="45.37" width="1.40" height="1.45" fill="#5a5a62"/>
<rect x="634.05" y="45.37" width="1.40" height="1.45" fill="#38d030"/>
<rect x="635.73" y="45.37" width="1.40" height="1.45" fill="#38d030"/>
<rect x="637.41" y="45.37" width="1.40" height="1.45" fill="#e01818"/>
<rect x="639.09" y="45.37" width="1.40" height="1.45" fill="#e01818"/>
<rect x="625.65" y="47.10" width="1.40" height="1.45" fill="#e01818"/>
<rect x="627.33" y="47.10" width="1.40" height="1.45" fill="#38d030"/>
<rect x="629.01" y="47.10" width="1.40" height="1.45" fill="#dcd820"/>
<rect x="630.69" y="47.10" width="1.40" height="1.45" fill="#e01818"/>
<rect x="632.37" y="47.10" width="1.40" height="1.45" fill="#dcd820"/>
<rect x="634.05" y="47.10" width="1.40" height="1.45" fill="#38d030"/>
<rect x="635.73" y="47.10" width="1.40" height="1.45" fill="#38d030"/>
<rect x="637.41" y="47.10" width="1.40" height="1.45" fill="#5a5a62"/>
<rect x="639.09" y="47.10" width="1.40" height="1.45" fill="#38d030"/>
<rect x="625.65" y="48.83" width="1.40" height="1.45" fill="#38d030"/>
<rect x="627.33" y="48.83" width="1.40" height="1.45" fill="#38d030"/>
<rect x="629.01" y="48.83" width="1.40" height="1.45" fill="#dcd820"/>
<rect x="630.69" y="48.83" width="1.40" height="1.45" fill="#e01818"/>
<rect x="632.37" y="48.83" width="1.40" height="1.45" fill="#5a5a62"/>
<rect x="634.05" y="48.83" width="1.40" height="1.45" fill="#e01818"/>
<rect x="635.73" y="48.83" width="1.40" height="1.45" fill="#5a5a62"/>
<rect x="637.41" y="48.83" width="1.40" height="1.45" fill="#5a5a62"/>
<rect x="639.09" y="48.83" width="1.40" height="1.45" fill="#e01818"/>
<rect x="625.65" y="50.56" width="1.40" height="1.45" fill="#5a5a62"/>
<rect x="627.33" y="50.56" width="1.40" height="1.45" fill="#38d030"/>
<rect x="629.01" y="50.56" width="1.40" height="1.45" fill="#dcd820"/>
<rect x="630.69" y="50.56" width="1.40" height="1.45" fill="#e01818"/>
<rect x="632.37" y="50.56" width="1.40" height="1.45" fill="#e01818"/>
<rect x="634.05" y="50.56" width="1.40" height="1.45" fill="#e01818"/>
<rect x="635.73" y="50.56" width="1.40" height="1.45" fill="#5a5a62"/>
<rect x="637.41" y="50.56" width="1.40" height="1.45" fill="#e01818"/>
<rect x="639.09" y="50.56" width="1.40" height="1.45" fill="#5a5a62"/>
<rect x="625.65" y="52.29" width="1.40" height="1.45" fill="#5a5a62"/>
<rect x="627.33" y="52.29" width="1.40" height="1.45" fill="#5a5a62"/>
<rect x="629.01" y="52.29" width="1.40" height="1.45" fill="#38d030"/>
<rect x="630.69" y="52.29" width="1.40" height="1.45" fill="#38d030"/>
<rect x="632.37" y="52.29" width="1.40" height="1.45" fill="#38d030"/>
<rect x="634.05" y="52.29" width="1.40" height="1.45" fill="#5a5a62"/>
<rect x="635.73" y="52.29" width="1.40" height="1.45" fill="#e01818"/>
<rect x="637.41" y="52.29" width="1.40" height="1.45" fill="#5a5a62"/>
<rect x="639.09" y="52.29" width="1.40" height="1.45" fill="#5a5a62"/>
<rect x="644.80" y="38.30" width="15.10" height="15.60" fill="#505058"/>
<rect x="644.95" y="38.45" width="1.40" height="1.45" fill="#dcd820"/>
<rect x="646.63" y="38.45" width="1.40" height="1.45" fill="#5a5a62"/>
<rect x="648.31" y="38.45" width="1.40" height="1.45" fill="#5a5a62"/>
<rect x="649.99" y="38.45" width="1.40" height="1.45" fill="#5a5a62"/>
<rect x="651.67" y="38.45" width="1.40" height="1.45" fill="#5a5a62"/>
<rect x="653.35" y="38.45" width="1.40" height="1.45" fill="#5a5a62"/>
<rect x="655.03" y="38.45" width="1.40" height="1.45" fill="#e01818"/>
<rect x="656.71" y="38.45" width="1.40" height="1.45" fill="#38d030"/>
<rect x="658.39" y="38.45" width="1.40" height="1.45" fill="#5a5a62"/>
<rect x="644.95" y="40.18" width="1.40" height="1.45" fill="#dcd820"/>
<rect x="646.63" y="40.18" width="1.40" height="1.45" fill="#5a5a62"/>
<rect x="648.31" y="40.18" width="1.40" height="1.45" fill="#e01818"/>
<rect x="649.99" y="40.18" width="1.40" height="1.45" fill="#38d030"/>
<rect x="651.67" y="40.18" width="1.40" height="1.45" fill="#38d030"/>
<rect x="653.35" y="40.18" width="1.40" height="1.45" fill="#dcd820"/>
<rect x="655.03" y="40.18" width="1.40" height="1.45" fill="#dcd820"/>
<rect x="656.71" y="40.18" width="1.40" height="1.45" fill="#e01818"/>
<rect x="658.39" y="40.18" width="1.40" height="1.45" fill="#e01818"/>
<rect x="644.95" y="41.91" width="1.40" height="1.45" fill="#38d030"/>
<rect x="646.63" y="41.91" width="1.40" height="1.45" fill="#5a5a62"/>
<rect x="648.31" y="41.91" width="1.40" height="1.45" fill="#5a5a62"/>
<rect x="649.99" y="41.91" width="1.40" height="1.45" fill="#e01818"/>
<rect x="651.67" y="41.91" width="1.40" height="1.45" fill="#5a5a62"/>
<rect x="653.35" y="41.91" width="1.40" height="1.45" fill="#e01818"/>
<rect x="655.03" y="41.91" width="1.40" height="1.45" fill="#dcd820"/>
<rect x="656.71" y="41.91" width="1.40" height="1.45" fill="#e01818"/>
<rect x="658.39" y="41.91" width="1.40" height="1.45" fill="#e01818"/>
<rect x="644.95" y="43.64" width="1.40" height="1.45" fill="#5a5a62"/>
<rect x="646.63" y="43.64" width="1.40" height="1.45" fill="#e01818"/>
<rect x="648.31" y="43.64" width="1.40" height="1.45" fill="#e01818"/>
<rect x="649.99" y="43.64" width="1.40" height="1.45" fill="#5a5a62"/>
<rect x="651.67" y="43.64" width="1.40" height="1.45" fill="#5a5a62"/>
<rect x="653.35" y="43.64" width="1.40" height="1.45" fill="#38d030"/>
<rect x="655.03" y="43.64" width="1.40" height="1.45" fill="#5a5a62"/>
<rect x="656.71" y="43.64" width="1.40" height="1.45" fill="#dcd820"/>
<rect x="658.39" y="43.64" width="1.40" height="1.45" fill="#dcd820"/>
<rect x="644.95" y="45.37" width="1.40" height="1.45" fill="#e01818"/>
<rect x="646.63" y="45.37" width="1.40" height="1.45" fill="#5a5a62"/>
<rect x="648.31" y="45.37" width="1.40" height="1.45" fill="#dcd820"/>
<rect x="649.99" y="45.37" width="1.40" height="1.45" fill="#5a5a62"/>
<rect x="651.67" y="45.37" width="1.40" height="1.45" fill="#5a5a62"/>
<rect x="653.35" y="45.37" width="1.40" height="1.45" fill="#38d030"/>
<rect x="655.03" y="45.37" width="1.40" height="1.45" fill="#38d030"/>
<rect x="656.71" y="45.37" width="1.40" height="1.45" fill="#e01818"/>
<rect x="658.39" y="45.37" width="1.40" height="1.45" fill="#e01818"/>
<rect x="644.95" y="47.10" width="1.40" height="1.45" fill="#e01818"/>
<rect x="646.63" y="47.10" width="1.40" height="1.45" fill="#38d030"/>
<rect x="648.31" y="47.10" width="1.40" height="1.45" fill="#dcd820"/>
<rect x="649.99" y="47.10" width="1.40" height="1.45" fill="#e01818"/>
<rect x="651.67" y="47.10" width="1.40" height="1.45" fill="#dcd820"/>
<rect x="653.35" y="47.10" width="1.40" height="1.45" fill="#38d030"/>
<rect x="655.03" y="47.10" width="1.40" height="1.45" fill="#38d030"/>
<rect x="656.71" y="47.10" width="1.40" height="1.45" fill="#5a5a62"/>
<rect x="658.39" y="47.10" width="1.40" height="1.45" fill="#38d030"/>
<rect x="644.95" y="48.83" width="1.40" height="1.45" fill="#38d030"/>
<rect x="646.63" y="48.83" width="1.40" height="1.45" fill="#38d030"/>
<rect x="648.31" y="48.83" width="1.40" height="1.45" fill="#dcd820"/>
<rect x="649.99" y="48.83" width="1.40" height="1.45" fill="#e01818"/>
<rect x="651.67" y="48.83" width="1.40" height="1.45" fill="#5a5a62"/>
<rect x="653.35" y="48.83" width="1.40" height="1.45" fill="#e01818"/>
<rect x="655.03" y="48.83" width="1.40" height="1.45" fill="#5a5a62"/>
<rect x="656.71" y="48.83" width="1.40" height="1.45" fill="#5a5a62"/>
<rect x="658.39" y="48.83" width="1.40" height="1.45" fill="#e01818"/>
<rect x="644.95" y="50.56" width="1.40" height="1.45" fill="#5a5a62"/>
<rect x="646.63" y="50.56" width="1.40" height="1.45" fill="#38d030"/>
<rect x="648.31" y="50.56" width="1.40" height="1.45" fill="#dcd820"/>
<rect x="649.99" y="50.56" width="1.40" height="1.45" fill="#e01818"/>
<rect x="651.67" y="50.56" width="1.40" height="1.45" fill="#e01818"/>
<rect x="653.35" y="50.56" width="1.40" height="1.45" fill="#e01818"/>
<rect x="655.03" y="50.56" width="1.40" height="1.45" fill="#5a5a62"/>
<rect x="656.71" y="50.56" width="1.40" height="1.45" fill="#e01818"/>
<rect x="658.39" y="50.56" width="1.40" height="1.45" fill="#5a5a62"/>
<rect x="644.95" y="52.29" width="1.40" height="1.45" fill="#5a5a62"/>
<rect x="646.63" y="52.29" width="1.40" height="1.45" fill="#5a5a62"/>
<rect x="648.31" y="52.29" width="1.40" height="1.45" fill="#38d030"/>
<rect x="649.99" y="52.29" width="1.40" height="1.45" fill="#38d030"/>
<rect x="651.67" y="52.29" width="1.40" height="1.45" fill="#38d030"/>
<rect x="653.35" y="52.29" width="1.40" height="1.45" fill="#5a5a62"/>
<rect x="655.03" y="52.29" width="1.40" height="1.45" fill="#e01818"/>
<rect x="656.71" y="52.29" width="1.40" height="1.45" fill="#5a5a62"/>
<rect x="658.39" y="52.29" width="1.40" height="1.45" fill="#5a5a62"/>
<rect x="664.10" y="38.30" width="15.10" height="15.60" fill="#505058"/>
<rect x="664.25" y="38.45" width="1.40" height="1.45" fill="#dcd820"/>
<rect x="665.93" y="38.45" width="1.40" height="1.45" fill="#5a5a62"/>
<rect x="667.61" y="38.45" width="1.40" height="1.45" fill="#5a5a62"/>
<rect x="669.29" y="38.45" width="1.40" height="1.45" fill="#5a5a62"/>
<rect x="670.97" y="38.45" width="1.40" height="1.45" fill="#5a5a62"/>
<rect x="672.65" y="38.45" width="1.40" height="1.45" fill="#5a5a62"/>
<rect x="674.33" y="38.45" width="1.40" height="1.45" fill="#e01818"/>
<rect x="676.01" y="38.45" width="1.40" height="1.45" fill="#38d030"/>
<rect x="677.69" y="38.45" width="1.40" height="1.45" fill="#5a5a62"/>
<rect x="664.25" y="40.18" width="1.40" height="1.45" fill="#dcd820"/>
<rect x="665.93" y="40.18" width="1.40" height="1.45" fill="#5a5a62"/>
<rect x="667.61" y="40.18" width="1.40" height="1.45" fill="#e01818"/>
<rect x="669.29" y="40.18" width="1.40" height="1.45" fill="#38d030"/>
<rect x="670.97" y="40.18" width="1.40" height="1.45" fill="#38d030"/>
<rect x="672.65" y="40.18" width="1.40" height="1.45" fill="#dcd820"/>
<rect x="674.33" y="40.18" width="1.40" height="1.45" fill="#dcd820"/>
<rect x="676.01" y="40.18" width="1.40" height="1.45" fill="#e01818"/>
<rect x="677.69" y="40.18" width="1.40" height="1.45" fill="#e01818"/>
<rect x="664.25" y="41.91" width="1.40" height="1.45" fill="#38d030"/>
<rect x="665.93" y="41.91" width="1.40" height="1.45" fill="#5a5a62"/>
<rect x="667.61" y="41.91" width="1.40" height="1.45" fill="#5a5a62"/>
<rect x="669.29" y="41.91" width="1.40" height="1.45" fill="#e01818"/>
<rect x="670.97" y="41.91" width="1.40" height="1.45" fill="#5a5a62"/>
<rect x="672.65" y="41.91" width="1.40" height="1.45" fill="#e01818"/>
<rect x="674.33" y="41.91" width="1.40" height="1.45" fill="#dcd820"/>
<rect x="676.01" y="41.91" width="1.40" height="1.45" fill="#e01818"/>
<rect x="677.69" y="41.91" width="1.40" height="1.45" fill="#e01818"/>
<rect x="664.25" y="43.64" width="1.40" height="1.45" fill="#5a5a62"/>
<rect x="665.93" y="43.64" width="1.40" height="1.45" fill="#e01818"/>
<rect x="667.61" y="43.64" width="1.40" height="1.45" fill="#e01818"/>
<rect x="669.29" y="43.64" width="1.40" height="1.45" fill="#5a5a62"/>
<rect x="670.97" y="43.64" width="1.40" height="1.45" fill="#5a5a62"/>
<rect x="672.65" y="43.64" width="1.40" height="1.45" fill="#38d030"/>
<rect x="674.33" y="43.64" width="1.40" height="1.45" fill="#5a5a62"/>
<rect x="676.01" y="43.64" width="1.40" height="1.45" fill="#dcd820"/>
<rect x="677.69" y="43.64" width="1.40" height="1.45" fill="#dcd820"/>
<rect x="664.25" y="45.37" width="1.40" height="1.45" fill="#e01818"/>
<rect x="665.93" y="45.37" width="1.40" height="1.45" fill="#5a5a62"/>
<rect x="667.61" y="45.37" width="1.40" height="1.45" fill="#dcd820"/>
<rect x="669.29" y="45.37" width="1.40" height="1.45" fill="#5a5a62"/>
<rect x="670.97" y="45.37" width="1.40" height="1.45" fill="#5a5a62"/>
<rect x="672.65" y="45.37" width="1.40" height="1.45" fill="#38d030"/>
<rect x="674.33" y="45.37" width="1.40" height="1.45" fill="#38d030"/>
<rect x="676.01" y="45.37" width="1.40" height="1.45" fill="#e01818"/>
<rect x="677.69" y="45.37" width="1.40" height="1.45" fill="#e01818"/>
<rect x="664.25" y="47.10" width="1.40" height="1.45" fill="#e01818"/>
<rect x="665.93" y="47.10" width="1.40" height="1.45" fill="#38d030"/>
<rect x="667.61" y="47.10" width="1.40" height="1.45" fill="#dcd820"/>
<rect x="669.29" y="47.10" width="1.40" height="1.45" fill="#e01818"/>
<rect x="670.97" y="47.10" width="1.40" height="1.45" fill="#dcd820"/>
<rect x="672.65" y="47.10" width="1.40" height="1.45" fill="#38d030"/>
<rect x="674.33" y="47.10" width="1.40" height="1.45" fill="#38d030"/>
<rect x="676.01" y="47.10" width="1.40" height="1.45" fill="#5a5a62"/>
<rect x="677.69" y="47.10" width="1.40" height="1.45" fill="#38d030"/>
<rect x="664.25" y="48.83" width="1.40" height="1.45" fill="#38d030"/>
<rect x="665.93" y="48.83" width="1.40" height="1.45" fill="#38d030"/>
<rect x="667.61" y="48.83" width="1.40" height="1.45" fill="#dcd820"/>
<rect x="669.29" y="48.83" width="1.40" height="1.45" fill="#e01818"/>
<rect x="670.97" y="48.83" width="1.40" height="1.45" fill="#5a5a62"/>
<rect x="672.65" y="48.83" width="1.40" height="1.45" fill="#e01818"/>
<rect x="674.33" y="48.83" width="1.40" height="1.45" fill="#5a5a62"/>
<rect x="676.01" y="48.83" width="1.40" height="1.45" fill="#5a5a62"/>
<rect x="677.69" y="48.83" width="1.40" height="1.45" fill="#e01818"/>
<rect x="664.25" y="50.56" width="1.40" height="1.45" fill="#5a5a62"/>
<rect x="665.93" y="50.56" width="1.40" height="1.45" fill="#38d030"/>
<rect x="667.61" y="50.56" width="1.40" height="1.45" fill="#dcd820"/>
<rect x="669.29" y="50.56" width="1.40" height="1.45" fill="#e01818"/>
<rect x="670.97" y="50.56" width="1.40" height="1.45" fill="#e01818"/>
<rect x="672.65" y="50.56" width="1.40" height="1.45" fill="#e01818"/>
<rect x="674.33" y="50.56" width="1.40" height="1.45" fill="#5a5a62"/>
<rect x="676.01" y="50.56" width="1.40" height="1.45" fill="#e01818"/>
<rect x="677.69" y="50.56" width="1.40" height="1.45" fill="#5a5a62"/>
<rect x="664.25" y="52.29" width="1.40" height="1.45" fill="#5a5a62"/>
<rect x="665.93" y="52.29" width="1.40" height="1.45" fill="#5a5a62"/>
<rect x="667.61" y="52.29" width="1.40" height="1.45" fill="#38d030"/>
<rect x="669.29" y="52.29" width="1.40" height="1.45" fill="#38d030"/>
<rect x="670.97" y="52.29" width="1.40" height="1.45" fill="#38d030"/>
<rect x="672.65" y="52.29" width="1.40" height="1.45" fill="#5a5a62"/>
<rect x="674.33" y="52.29" width="1.40" height="1.45" fill="#e01818"/>
<rect x="676.01" y="52.29" width="1.40" height="1.45" fill="#5a5a62"/>
<rect x="677.69" y="52.29" width="1.40" height="1.45" fill="#5a5a62"/>
<rect x="625.50" y="57.40" width="15.10" height="15.60" fill="#505058"/>
<rect x="625.65" y="57.55" width="1.40" height="1.45" fill="#dcd820"/>
<rect x="627.33" y="57.55" width="1.40" height="1.45" fill="#5a5a62"/>
<rect x="629.01" y="57.55" width="1.40" height="1.45" fill="#5a5a62"/>
<rect x="630.69" y="57.55" width="1.40" height="1.45" fill="#5a5a62"/>
<rect x="632.37" y="57.55" width="1.40" height="1.45" fill="#5a5a62"/>
<rect x="634.05" y="57.55" width="1.40" height="1.45" fill="#5a5a62"/>
<rect x="635.73" y="57.55" width="1.40" height="1.45" fill="#e01818"/>
<rect x="637.41" y="57.55" width="1.40" height="1.45" fill="#38d030"/>
<rect x="639.09" y="57.55" width="1.40" height="1.45" fill="#5a5a62"/>
<rect x="625.65" y="59.28" width="1.40" height="1.45" fill="#dcd820"/>
<rect x="627.33" y="59.28" width="1.40" height="1.45" fill="#5a5a62"/>
<rect x="629.01" y="59.28" width="1.40" height="1.45" fill="#e01818"/>
<rect x="630.69" y="59.28" width="1.40" height="1.45" fill="#38d030"/>
<rect x="632.37" y="59.28" width="1.40" height="1.45" fill="#38d030"/>
<rect x="634.05" y="59.28" width="1.40" height="1.45" fill="#dcd820"/>
<rect x="635.73" y="59.28" width="1.40" height="1.45" fill="#dcd820"/>
<rect x="637.41" y="59.28" width="1.40" height="1.45" fill="#e01818"/>
<rect x="639.09" y="59.28" width="1.40" height="1.45" fill="#e01818"/>
<rect x="625.65" y="61.01" width="1.40" height="1.45" fill="#38d030"/>
<rect x="627.33" y="61.01" width="1.40" height="1.45" fill="#5a5a62"/>
<rect x="629.01" y="61.01" width="1.40" height="1.45" fill="#5a5a62"/>
<rect x="630.69" y="61.01" width="1.40" height="1.45" fill="#e01818"/>
<rect x="632.37" y="61.01" width="1.40" height="1.45" fill="#5a5a62"/>
<rect x="634.05" y="61.01" width="1.40" height="1.45" fill="#e01818"/>
<rect x="635.73" y="61.01" width="1.40" height="1.45" fill="#dcd820"/>
<rect x="637.41" y="61.01" width="1.40" height="1.45" fill="#e01818"/>
<rect x="639.09" y="61.01" width="1.40" height="1.45" fill="#e01818"/>
<rect x="625.65" y="62.74" width="1.40" height="1.45" fill="#5a5a62"/>
<rect x="627.33" y="62.74" width="1.40" height="1.45" fill="#e01818"/>
<rect x="629.01" y="62.74" width="1.40" height="1.45" fill="#e01818"/>
<rect x="630.69" y="62.74" width="1.40" height="1.45" fill="#5a5a62"/>
<rect x="632.37" y="62.74" width="1.40" height="1.45" fill="#5a5a62"/>
<rect x="634.05" y="62.74" width="1.40" height="1.45" fill="#38d030"/>
<rect x="635.73" y="62.74" width="1.40" height="1.45" fill="#5a5a62"/>
<rect x="637.41" y="62.74" width="1.40" height="1.45" fill="#dcd820"/>
<rect x="639.09" y="62.74" width="1.40" height="1.45" fill="#dcd820"/>
<rect x="625.65" y="64.47" width="1.40" height="1.45" fill="#e01818"/>
<rect x="627.33" y="64.47" width="1.40" height="1.45" fill="#5a5a62"/>
<rect x="629.01" y="64.47" width="1.40" height="1.45" fill="#dcd820"/>
<rect x="630.69" y="64.47" width="1.40" height="1.45" fill="#5a5a62"/>
<rect x="632.37" y="64.47" width="1.40" height="1.45" fill="#5a5a62"/>
<rect x="634.05" y="64.47" width="1.40" height="1.45" fill="#38d030"/>
<rect x="635.73" y="64.47" width="1.40" height="1.45" fill="#38d030"/>
<rect x="637.41" y="64.47" width="1.40" height="1.45" fill="#e01818"/>
<rect x="639.09" y="64.47" width="1.40" height="1.45" fill="#e01818"/>
<rect x="625.65" y="66.20" width="1.40" height="1.45" fill="#e01818"/>
<rect x="627.33" y="66.20" width="1.40" height="1.45" fill="#38d030"/>
<rect x="629.01" y="66.20" width="1.40" height="1.45" fill="#dcd820"/>
<rect x="630.69" y="66.20" width="1.40" height="1.45" fill="#e01818"/>
<rect x="632.37" y="66.20" width="1.40" height="1.45" fill="#dcd820"/>
<rect x="634.05" y="66.20" width="1.40" height="1.45" fill="#38d030"/>
<rect x="635.73" y="66.20" width="1.40" height="1.45" fill="#38d030"/>
<rect x="637.41" y="66.20" width="1.40" height="1.45" fill="#5a5a62"/>
<rect x="639.09" y="66.20" width="1.40" height="1.45" fill="#38d030"/>
<rect x="625.65" y="67.93" width="1.40" height="1.45" fill="#38d030"/>
<rect x="627.33" y="67.93" width="1.40" height="1.45" fill="#38d030"/>
<rect x="629.01" y="67.93" width="1.40" height="1.45" fill="#dcd820"/>
<rect x="630.69" y="67.93" width="1.40" height="1.45" fill="#e01818"/>
<rect x="632.37" y="67.93" width="1.40" height="1.45" fill="#5a5a62"/>
<rect x="634.05" y="67.93" width="1.40" height="1.45" fill="#e01818"/>
<rect x="635.73" y="67.93" width="1.40" height="1.45" fill="#5a5a62"/>
<rect x="637.41" y="67.93" width="1.40" height="1.45" fill="#5a5a62"/>
<rect x="639.09" y="67.93" width="1.40" height="1.45" fill="#e01818"/>
<rect x="625.65" y="69.66" width="1.40" height="1.45" fill="#5a5a62"/>
<rect x="627.33" y="69.66" width="1.40" height="1.45" fill="#38d030"/>
<rect x="629.01" y="69.66" width="1.40" height="1.45" fill="#dcd820"/>
<rect x="630.69" y="69.66" width="1.40" height="1.45" fill="#e01818"/>
<rect x="632.37" y="69.66" width="1.40" height="1.45" fill="#e01818"/>
<rect x="634.05" y="69.66" width="1.40" height="1.45" fill="#e01818"/>
<rect x="635.73" y="69.66" width="1.40" height="1.45" fill="#5a5a62"/>
<rect x="637.41" y="69.66" width="1.40" height="1.45" fill="#e01818"/>
<rect x="639.09" y="69.66" width="1.40" height="1.45" fill="#5a5a62"/>
<rect x="625.65" y="71.39" width="1.40" height="1.45" fill="#5a5a62"/>
<rect x="627.33" y="71.39" width="1.40" height="1.45" fill="#5a5a62"/>
<rect x="629.01" y="71.39" width="1.40" height="1.45" fill="#38d030"/>
<rect x="630.69" y="71.39" width="1.40" height="1.45" fill="#38d030"/>
<rect x="632.37" y="71.39" width="1.40" height="1.45" fill="#38d030"/>
<rect x="634.05" y="71.39" width="1.40" height="1.45" fill="#5a5a62"/>
<rect x="635.73" y="71.39" width="1.40" height="1.45" fill="#e01818"/>
<rect x="637.41" y="71.39" width="1.40" height="1.45" fill="#5a5a62"/>
<rect x="639.09" y="71.39" width="1.40" height="1.45" fill="#5a5a62"/>
<rect x="644.80" y="57.40" width="15.10" height="15.60" fill="#505058"/>
<rect x="644.95" y="57.55" width="1.40" height="1.45" fill="#dcd820"/>
<rect x="646.63" y="57.55" width="1.40" height="1.45" fill="#5a5a62"/>
<rect x="648.31" y="57.55" width="1.40" height="1.45" fill="#5a5a62"/>
<rect x="649.99" y="57.55" width="1.40" height="1.45" fill="#5a5a62"/>
<rect x="651.67" y="57.55" width="1.40" height="1.45" fill="#5a5a62"/>
<rect x="653.35" y="57.55" width="1.40" height="1.45" fill="#5a5a62"/>
<rect x="655.03" y="57.55" width="1.40" height="1.45" fill="#e01818"/>
<rect x="656.71" y="57.55" width="1.40" height="1.45" fill="#38d030"/>
<rect x="658.39" y="57.55" width="1.40" height="1.45" fill="#5a5a62"/>
<rect x="644.95" y="59.28" width="1.40" height="1.45" fill="#dcd820"/>
<rect x="646.63" y="59.28" width="1.40" height="1.45" fill="#5a5a62"/>
<rect x="648.31" y="59.28" width="1.40" height="1.45" fill="#e01818"/>
<rect x="649.99" y="59.28" width="1.40" height="1.45" fill="#38d030"/>
<rect x="651.67" y="59.28" width="1.40" height="1.45" fill="#38d030"/>
<rect x="653.35" y="59.28" width="1.40" height="1.45" fill="#dcd820"/>
<rect x="655.03" y="59.28" width="1.40" height="1.45" fill="#dcd820"/>
<rect x="656.71" y="59.28" width="1.40" height="1.45" fill="#e01818"/>
<rect x="658.39" y="59.28" width="1.40" height="1.45" fill="#e01818"/>
<rect x="644.95" y="61.01" width="1.40" height="1.45" fill="#38d030"/>
<rect x="646.63" y="61.01" width="1.40" height="1.45" fill="#5a5a62"/>
<rect x="648.31" y="61.01" width="1.40" height="1.45" fill="#5a5a62"/>
<rect x="649.99" y="61.01" width="1.40" height="1.45" fill="#e01818"/>
<rect x="651.67" y="61.01" width="1.40" height="1.45" fill="#5a5a62"/>
<rect x="653.35" y="61.01" width="1.40" height="1.45" fill="#e01818"/>
<rect x="655.03" y="61.01" width="1.40" height="1.45" fill="#dcd820"/>
<rect x="656.71" y="61.01" width="1.40" height="1.45" fill="#e01818"/>
<rect x="658.39" y="61.01" width="1.40" height="1.45" fill="#e01818"/>
<rect x="644.95" y="62.74" width="1.40" height="1.45" fill="#5a5a62"/>
<rect x="646.63" y="62.74" width="1.40" height="1.45" fill="#e01818"/>
<rect x="648.31" y="62.74" width="1.40" height="1.45" fill="#e01818"/>
<rect x="649.99" y="62.74" width="1.40" height="1.45" fill="#5a5a62"/>
<rect x="651.67" y="62.74" width="1.40" height="1.45" fill="#5a5a62"/>
<rect x="653.35" y="62.74" width="1.40" height="1.45" fill="#38d030"/>
<rect x="655.03" y="62.74" width="1.40" height="1.45" fill="#5a5a62"/>
<rect x="656.71" y="62.74" width="1.40" height="1.45" fill="#dcd820"/>
<rect x="658.39" y="62.74" width="1.40" height="1.45" fill="#dcd820"/>
<rect x="644.95" y="64.47" width="1.40" height="1.45" fill="#e01818"/>
<rect x="646.63" y="64.47" width="1.40" height="1.45" fill="#5a5a62"/>
<rect x="648.31" y="64.47" width="1.40" height="1.45" fill="#dcd820"/>
<rect x="649.99" y="64.47" width="1.40" height="1.45" fill="#5a5a62"/>
<rect x="651.67" y="64.47" width="1.40" height="1.45" fill="#5a5a62"/>
<rect x="653.35" y="64.47" width="1.40" height="1.45" fill="#38d030"/>
<rect x="655.03" y="64.47" width="1.40" height="1.45" fill="#38d030"/>
<rect x="656.71" y="64.47" width="1.40" height="1.45" fill="#e01818"/>
<rect x="658.39" y="64.47" width="1.40" height="1.45" fill="#e01818"/>
<rect x="644.95" y="66.20" width="1.40" height="1.45" fill="#e01818"/>
<rect x="646.63" y="66.20" width="1.40" height="1.45" fill="#38d030"/>
<rect x="648.31" y="66.20" width="1.40" height="1.45" fill="#dcd820"/>
<rect x="649.99" y="66.20" width="1.40" height="1.45" fill="#e01818"/>
<rect x="651.67" y="66.20" width="1.40" height="1.45" fill="#dcd820"/>
<rect x="653.35" y="66.20" width="1.40" height="1.45" fill="#38d030"/>
<rect x="655.03" y="66.20" width="1.40" height="1.45" fill="#38d030"/>
<rect x="656.71" y="66.20" width="1.40" height="1.45" fill="#5a5a62"/>
<rect x="658.39" y="66.20" width="1.40" height="1.45" fill="#38d030"/>
<rect x="644.95" y="67.93" width="1.40" height="1.45" fill="#38d030"/>
<rect x="646.63" y="67.93" width="1.40" height="1.45" fill="#38d030"/>
<rect x="648.31" y="67.93" width="1.40" height="1.45" fill="#dcd820"/>
<rect x="649.99" y="67.93" width="1.40" height="1.45" fill="#e01818"/>
<rect x="651.67" y="67.93" width="1.40" height="1.45" fill="#5a5a62"/>
<rect x="653.35" y="67.93" width="1.40" height="1.45" fill="#e01818"/>
<rect x="655.03" y="67.93" width="1.40" height="1.45" fill="#5a5a62"/>
<rect x="656.71" y="67.93" width="1.40" height="1.45" fill="#5a5a62"/>
<rect x="658.39" y="67.93" width="1.40" height="1.45" fill="#e01818"/>
<rect x="644.95" y="69.66" width="1.40" height="1.45" fill="#5a5a62"/>
<rect x="646.63" y="69.66" width="1.40" height="1.45" fill="#38d030"/>
<rect x="648.31" y="69.66" width="1.40" height="1.45" fill="#dcd820"/>
<rect x="649.99" y="69.66" width="1.40" height="1.45" fill="#e01818"/>
<rect x="651.67" y="69.66" width="1.40" height="1.45" fill="#e01818"/>
<rect x="653.35" y="69.66" width="1.40" height="1.45" fill="#e01818"/>
<rect x="655.03" y="69.66" width="1.40" height="1.45" fill="#5a5a62"/>
<rect x="656.71" y="69.66" width="1.40" height="1.45" fill="#e01818"/>
<rect x="658.39" y="69.66" width="1.40" height="1.45" fill="#5a5a62"/>
<rect x="644.95" y="71.39" width="1.40" height="1.45" fill="#5a5a62"/>
<rect x="646.63" y="71.39" width="1.40" height="1.45" fill="#5a5a62"/>
<rect x="648.31" y="71.39" width="1.40" height="1.45" fill="#38d030"/>
<rect x="649.99" y="71.39" width="1.40" height="1.45" fill="#38d030"/>
<rect x="651.67" y="71.39" width="1.40" height="1.45" fill="#38d030"/>
<rect x="653.35" y="71.39" width="1.40" height="1.45" fill="#5a5a62"/>
<rect x="655.03" y="71.39" width="1.40" height="1.45" fill="#e01818"/>
<rect x="656.71" y="71.39" width="1.40" height="1.45" fill="#5a5a62"/>
<rect x="658.39" y="71.39" width="1.40" height="1.45" fill="#5a5a62"/>
<rect x="664.10" y="57.40" width="15.10" height="15.60" fill="#505058"/>
<rect x="664.25" y="57.55" width="1.40" height="1.45" fill="#dcd820"/>
<rect x="665.93" y="57.55" width="1.40" height="1.45" fill="#5a5a62"/>
<rect x="667.61" y="57.55" width="1.40" height="1.45" fill="#5a5a62"/>
<rect x="669.29" y="57.55" width="1.40" height="1.45" fill="#5a5a62"/>
<rect x="670.97" y="57.55" width="1.40" height="1.45" fill="#5a5a62"/>
<rect x="672.65" y="57.55" width="1.40" height="1.45" fill="#5a5a62"/>
<rect x="674.33" y="57.55" width="1.40" height="1.45" fill="#e01818"/>
<rect x="676.01" y="57.55" width="1.40" height="1.45" fill="#38d030"/>
<rect x="677.69" y="57.55" width="1.40" height="1.45" fill="#5a5a62"/>
<rect x="664.25" y="59.28" width="1.40" height="1.45" fill="#dcd820"/>
<rect x="665.93" y="59.28" width="1.40" height="1.45" fill="#5a5a62"/>
<rect x="667.61" y="59.28" width="1.40" height="1.45" fill="#e01818"/>
<rect x="669.29" y="59.28" width="1.40" height="1.45" fill="#38d030"/>
<rect x="670.97" y="59.28" width="1.40" height="1.45" fill="#38d030"/>
<rect x="672.65" y="59.28" width="1.40" height="1.45" fill="#dcd820"/>
<rect x="674.33" y="59.28" width="1.40" height="1.45" fill="#dcd820"/>
<rect x="676.01" y="59.28" width="1.40" height="1.45" fill="#e01818"/>
<rect x="677.69" y="59.28" width="1.40" height="1.45" fill="#e01818"/>
<rect x="664.25" y="61.01" width="1.40" height="1.45" fill="#38d030"/>
<rect x="665.93" y="61.01" width="1.40" height="1.45" fill="#5a5a62"/>
<rect x="667.61" y="61.01" width="1.40" height="1.45" fill="#5a5a62"/>
<rect x="669.29" y="61.01" width="1.40" height="1.45" fill="#e01818"/>
<rect x="670.97" y="61.01" width="1.40" height="1.45" fill="#5a5a62"/>
<rect x="672.65" y="61.01" width="1.40" height="1.45" fill="#e01818"/>
<rect x="674.33" y="61.01" width="1.40" height="1.45" fill="#dcd820"/>
<rect x="676.01" y="61.01" width="1.40" height="1.45" fill="#e01818"/>
<rect x="677.69" y="61.01" width="1.40" height="1.45" fill="#e01818"/>
<rect x="664.25" y="62.74" width="1.40" height="1.45" fill="#5a5a62"/>
<rect x="665.93" y="62.74" width="1.40" height="1.45" fill="#e01818"/>
<rect x="667.61" y="62.74" width="1.40" height="1.45" fill="#e01818"/>
<rect x="669.29" y="62.74" width="1.40" height="1.45" fill="#5a5a62"/>
<rect x="670.97" y="62.74" width="1.40" height="1.45" fill="#5a5a62"/>
<rect x="672.65" y="62.74" width="1.40" height="1.45" fill="#38d030"/>
<rect x="674.33" y="62.74" width="1.40" height="1.45" fill="#5a5a62"/>
<rect x="676.01" y="62.74" width="1.40" height="1.45" fill="#dcd820"/>
<rect x="677.69" y="62.74" width="1.40" height="1.45" fill="#dcd820"/>
<rect x="664.25" y="64.47" width="1.40" height="1.45" fill="#e01818"/>
<rect x="665.93" y="64.47" width="1.40" height="1.45" fill="#5a5a62"/>
<rect x="667.61" y="64.47" width="1.40" height="1.45" fill="#dcd820"/>
<rect x="669.29" y="64.47" width="1.40" height="1.45" fill="#5a5a62"/>
<rect x="670.97" y="64.47" width="1.40" height="1.45" fill="#5a5a62"/>
<rect x="672.65" y="64.47" width="1.40" height="1.45" fill="#38d030"/>
<rect x="674.33" y="64.47" width="1.40" height="1.45" fill="#38d030"/>
<rect x="676.01" y="64.47" width="1.40" height="1.45" fill="#e01818"/>
<rect x="677.69" y="64.47" width="1.40" height="1.45" fill="#e01818"/>
<rect x="664.25" y="66.20" width="1.40" height="1.45" fill="#e01818"/>
<rect x="665.93" y="66.20" width="1.40" height="1.45" fill="#38d030"/>
<rect x="667.61" y="66.20" width="1.40" height="1.45" fill="#dcd820"/>
<rect x="669.29" y="66.20" width="1.40" height="1.45" fill="#e01818"/>
<rect x="670.97" y="66.20" width="1.40" height="1.45" fill="#dcd820"/>
<rect x="672.65" y="66.20" width="1.40" height="1.45" fill="#38d030"/>
<rect x="674.33" y="66.20" width="1.40" height="1.45" fill="#38d030"/>
<rect x="676.01" y="66.20" width="1.40" height="1.45" fill="#5a5a62"/>
<rect x="677.69" y="66.20" width="1.40" height="1.45" fill="#38d030"/>
<rect x="664.25" y="67.93" width="1.40" height="1.45" fill="#38d030"/>
<rect x="665.93" y="67.93" width="1.40" height="1.45" fill="#38d030"/>
<rect x="667.61" y="67.93" width="1.40" height="1.45" fill="#dcd820"/>
<rect x="669.29" y="67.93" width="1.40" height="1.45" fill="#e01818"/>
<rect x="670.97" y="67.93" width="1.40" height="1.45" fill="#5a5a62"/>
<rect x="672.65" y="67.93" width="1.40" height="1.45" fill="#e01818"/>
<rect x="674.33" y="67.93" width="1.40" height="1.45" fill="#5a5a62"/>
<rect x="676.01" y="67.93" width="1.40" height="1.45" fill="#5a5a62"/>
<rect x="677.69" y="67.93" width="1.40" height="1.45" fill="#e01818"/>
<rect x="664.25" y="69.66" width="1.40" height="1.45" fill="#5a5a62"/>
<rect x="665.93" y="69.66" width="1.40" height="1.45" fill="#38d030"/>
<rect x="667.61" y="69.66" width="1.40" height="1.45" fill="#dcd820"/>
<rect x="669.29" y="69.66" width="1.40" height="1.45" fill="#e01818"/>
<rect x="670.97" y="69.66" width="1.40" height="1.45" fill="#e01818"/>
<rect x="672.65" y="69.66" width="1.40" height="1.45" fill="#e01818"/>
<rect x="674.33" y="69.66" width="1.40" height="1.45" fill="#5a5a62"/>
<rect x="676.01" y="69.66" width="1.40" height="1.45" fill="#e01818"/>
<rect x="677.69" y="69.66" width="1.40" height="1.45" fill="#5a5a62"/>
<rect x="664.25" y="71.39" width="1.40" height="1.45" fill="#5a5a62"/>
<rect x="665.93" y="71.39" width="1.40" height="1.45" fill="#5a5a62"/>
<rect x="667.61" y="71.39" width="1.40" height="1.45" fill="#38d030"/>
<rect x="669.29" y="71.39" width="1.40" height="1.45" fill="#38d030"/>
<rect x="670.97" y="71.39" width="1.40" height="1.45" fill="#38d030"/>
<rect x="672.65" y="71.39" width="1.40" height="1.45" fill="#5a5a62"/>
<rect x="674.33" y="71.39" width="1.40" height="1.45" fill="#e01818"/>
<rect x="676.01" y="71.39" width="1.40" height="1.45" fill="#5a5a62"/>
<rect x="677.69" y="71.39" width="1.40" height="1.45" fill="#5a5a62"/>
<text x="0" y="0" font-size="5.81" fill="#111" font-weight="bold" transform="translate(626.91,82.50) scale(0.9323,1)">scioCyto microarray</text>
<text x="0" y="0" font-size="5.81" fill="#111" font-weight="bold" transform="translate(638.78,88.90) scale(0.9327,1)">Chemokines</text>
<text x="0" y="0" font-size="5.81" fill="#111" font-weight="bold" transform="translate(638.78,94.90) scale(0.9191,1)">Cytokines</text>
<circle cx="633.7" cy="87.2" r="0.95" fill="#111"/><circle cx="633.7" cy="93.2" r="0.95" fill="#111"/>
<rect x="486.30" y="101.80" width="157.10" height="79.60" fill="#fff" stroke="#333" stroke-width="0.9"/>
<defs><radialGradient id="yg"><stop offset="0" stop-color="#f6f000"/><stop offset="0.7" stop-color="#f6f000"/><stop offset="1" stop-color="#f6f000" stop-opacity="0"/></radialGradient></defs>
<defs><filter id="blur1" x="-50%" y="-50%" width="200%" height="200%"><feGaussianBlur stdDeviation="1.6"/></filter></defs>
<ellipse cx="504.5" cy="117" rx="13.2" ry="7.8" fill="#f4ee00" filter="url(#blur1)"/>
<text x="504.60" y="117.20" font-size="4.4" fill="#111" font-weight="bold" text-anchor="middle" textLength="21.0" lengthAdjust="spacingAndGlyphs">Chemokines</text>
<text x="505.00" y="121.40" font-size="4.4" fill="#111" font-weight="bold" text-anchor="middle" textLength="17.0" lengthAdjust="spacingAndGlyphs">Cytokines</text>
<line x1="517.60" y1="124.00" x2="517.60" y2="114.50" stroke="#111" stroke-width="0.7"/>
<path d="M515.9,115.5 L517.6,112.5 L519.3,115.5 Z" stroke="none" stroke-width="1" fill="#111"/>
<text x="0" y="0" font-size="4.51" fill="#222" transform="translate(529.41,111.40) scale(0.8612,1)">Talquetamab</text>
<text x="0" y="0" font-size="4.36" fill="#222" transform="translate(525.13,128.90) scale(0.7822,1)">CD3</text>
<text x="0" y="0" font-size="4.36" fill="#222" transform="translate(548.73,125.60) scale(0.7946,1)">GPRC5D</text>
<rect x="538.40" y="116.50" width="2.80" height="6.80" fill="#e6e6e6" stroke="#b4b4b4" stroke-width="0.4"/>
<path d="M538.8,123.2 L535.4,126.2" stroke="#cfcfcf" stroke-width="2.2" fill="none"/>
<path d="M540.8,123.2 L544.2,126.2" stroke="#cfcfcf" stroke-width="2.2" fill="none"/>
<rect x="-1.4" y="-1.8" width="2.8" height="3.6" fill="#3aa54e" transform="translate(535.9,127.8) rotate(45)"/>
<rect x="-1.4" y="-1.8" width="2.8" height="3.6" fill="#e8842c" transform="translate(545.4,127.8) rotate(-45)"/>
<rect x="-1.2" y="-1.0" width="2.4" height="2.0" fill="#2a9a9a" transform="translate(532.2,130.2) rotate(45)"/>
<rect x="-1.2" y="-1.0" width="2.4" height="2.0" fill="#4ab050" transform="translate(533.4,131.6) rotate(45)"/>
<path d="M531.8,132.6 L527.6,135.4" stroke="#9a9a9a" stroke-width="1.4" fill="none"/>
<path d="M531.8,132.6 L527.6,135.4" stroke="#ffffff" stroke-width="0.7" fill="none"/>
<rect x="-1.4" y="-1.0" width="2.8" height="2.0" fill="#f09a30" transform="translate(548.0,130.4) rotate(-45)"/>
<rect x="-1.4" y="-1.0" width="2.8" height="2.0" fill="#f0a838" transform="translate(549.6,132.0) rotate(-45)"/>
<path d="M550.8,133.2 L554.0,135.6" stroke="#9a8aa8" stroke-width="1.4" fill="none"/>
<path d="M550.8,133.2 L554.0,135.6" stroke="#ffffff" stroke-width="0.7" fill="none"/>
<circle cx="517.75" cy="140.85" r="13.0" fill="#d5e8d6" stroke="#aacdb4" stroke-width="0.6"/>
<circle cx="519.4" cy="141.0" r="8.3" fill="#8ec8a2"/>
<polygon points="577.70,140.10 576.44,141.43 576.20,142.74 575.77,143.99 575.16,145.16 576.16,147.24 574.14,147.61 573.17,148.54 572.23,149.47 571.11,150.17 570.70,152.05 568.89,151.54 567.71,152.13 566.37,152.17 565.14,152.81 563.80,154.04 562.50,152.47 561.24,152.16 559.81,152.37 558.62,151.74 556.64,152.51 556.35,150.35 555.56,149.26 554.51,148.46 553.61,147.51 551.79,147.03 552.04,145.34 551.89,143.97 551.68,142.68 551.08,141.44 549.93,140.10 551.01,138.76 551.50,137.49 551.79,136.20 552.38,135.01 551.60,133.05 553.76,132.80 554.64,131.85 555.22,130.57 556.49,130.04 556.67,127.74 558.75,128.75 559.82,127.85 561.13,127.54 562.47,127.42 563.80,125.84 565.12,127.52 566.45,127.64 567.62,128.33 568.92,128.60 570.95,127.72 571.10,130.05 572.40,130.55 573.34,131.51 573.95,132.73 575.94,133.09 575.28,134.99 575.72,136.23 576.42,137.42 576.26,138.79" fill="#d6787f" stroke="#c86a72" stroke-width="0.4"/>
<circle cx="565.1" cy="142.4" r="5.8" fill="#b85462"/>
<text x="0" y="0" font-size="4.36" fill="#222" transform="translate(508.21,158.50) scale(0.8831,1)">T cells</text>
<text x="0" y="0" font-size="4.51" fill="#222" font-weight="bold" transform="translate(565.15,160.20) scale(0.8312,1)">Myeloma</text>
<text x="0" y="0" font-size="4.51" fill="#222" font-weight="bold" transform="translate(569.65,164.60) scale(0.8261,1)">cell</text>
<path d="M527.7,154.4 Q543,164.5 558.2,154.3" stroke="#111" stroke-width="0.7" fill="none" marker-end="url(#ah2)"/>
<defs><marker id="ah2" markerWidth="4" markerHeight="4" refX="2.5" refY="2" orient="auto" markerUnits="userSpaceOnUse"><path d="M0,0.3 L3.5,2 L0,3.7 z" fill="#111"/></marker></defs>
<circle cx="535.4" cy="151.9" r="0.6" fill="#3a9a5a"/>
<circle cx="530.6" cy="153.4" r="0.6" fill="#3a9a5a"/>
<circle cx="527.7" cy="156.3" r="0.6" fill="#3a9a5a"/>
<circle cx="540.6" cy="154.4" r="0.6" fill="#3a9a5a"/>
<circle cx="545.2" cy="155.3" r="0.6" fill="#3a9a5a"/>
<circle cx="550.0" cy="151.4" r="0.6" fill="#3a9a5a"/>
<circle cx="553.0" cy="153.5" r="0.6" fill="#3a9a5a"/>
<circle cx="534.8" cy="161.0" r="0.6" fill="#3a9a5a"/>
<circle cx="538.3" cy="162.3" r="0.6" fill="#3a9a5a"/>
<circle cx="545.8" cy="162.7" r="0.6" fill="#3a9a5a"/>
<circle cx="550.4" cy="163.3" r="0.6" fill="#3a9a5a"/>
<circle cx="541.6" cy="165.6" r="0.6" fill="#3a9a5a"/>
<circle cx="548.2" cy="166.8" r="0.6" fill="#3a9a5a"/>
<circle cx="531.3" cy="160.5" r="0.6" fill="#3a9a5a"/>
<circle cx="540.4" cy="156.6" r="0.6" fill="#3a9a5a"/>
<circle cx="555.0" cy="160.0" r="0.6" fill="#3a9a5a"/>
<circle cx="536.0" cy="157.6" r="0.6" fill="#3a9a5a"/>
<circle cx="552.0" cy="157.0" r="0.6" fill="#3a9a5a"/>
<text x="0" y="0" font-size="4.36" fill="#333" font-weight="bold" transform="translate(528.05,172.80) scale(0.8311,1)">Granzymes and</text>
<text x="0" y="0" font-size="4.36" fill="#333" font-weight="bold" transform="translate(533.86,177.00) scale(0.8464,1)">perforins</text>
<path d="M579.3,141.6 H605.5" stroke="#222" stroke-width="0.7" fill="none" marker-end="url(#ah2)"/>
<ellipse cx="612.2" cy="130.2" rx="1.3" ry="1.3" fill="#c6c6c6" stroke="#b4b4b4" stroke-width="0.3"/>
<ellipse cx="620.2" cy="129.9" rx="2.3" ry="1.6" fill="#c6c6c6" stroke="#b4b4b4" stroke-width="0.3"/>
<ellipse cx="627.5" cy="128.5" rx="1.8" ry="1.3" fill="#c6c6c6" stroke="#b4b4b4" stroke-width="0.3"/>
<ellipse cx="634" cy="131" rx="2.5" ry="2" fill="#c6c6c6" stroke="#b4b4b4" stroke-width="0.3"/>
<ellipse cx="616.5" cy="133.9" rx="2.6" ry="2" fill="#c6c6c6" stroke="#b4b4b4" stroke-width="0.3"/>
<ellipse cx="635.5" cy="137.5" rx="3.2" ry="2.6" fill="#c6c6c6" stroke="#b4b4b4" stroke-width="0.3"/>
<ellipse cx="613.6" cy="138.2" rx="1.6" ry="1.4" fill="#c6c6c6" stroke="#b4b4b4" stroke-width="0.3"/>
<ellipse cx="615" cy="144" rx="3" ry="2.5" fill="#c6c6c6" stroke="#b4b4b4" stroke-width="0.3"/>
<ellipse cx="622.4" cy="144.8" rx="3.5" ry="3" fill="#c6c6c6" stroke="#b4b4b4" stroke-width="0.3"/>
<ellipse cx="631" cy="143.4" rx="4" ry="3" fill="#c6c6c6" stroke="#b4b4b4" stroke-width="0.3"/>
<ellipse cx="636.2" cy="144" rx="2.5" ry="2.5" fill="#c6c6c6" stroke="#b4b4b4" stroke-width="0.3"/>
<ellipse cx="619.5" cy="150.7" rx="3.2" ry="2.4" fill="#c6c6c6" stroke="#b4b4b4" stroke-width="0.3"/>
<ellipse cx="628.2" cy="153.6" rx="2.5" ry="1.8" fill="#c6c6c6" stroke="#b4b4b4" stroke-width="0.3"/>
<ellipse cx="631.9" cy="148.5" rx="2.4" ry="2" fill="#c6c6c6" stroke="#b4b4b4" stroke-width="0.3"/>
<ellipse cx="624.6" cy="136" rx="6" ry="5" fill="#c6c6c6" stroke="#b4b4b4" stroke-width="0.3"/>
<ellipse cx="625" cy="138" rx="3.2" ry="2.6" fill="#acacac"/>
<text x="0" y="0" font-size="4.51" fill="#333" font-weight="bold" transform="translate(616.65,161.60) scale(0.8164,1)">Cell death</text>
<text x="0" y="0" font-size="21.80" fill="#000" transform="translate(-0.31,238.10) scale(0.8256,1)">C</text>
<text x="0" y="0" font-size="20.10" fill="#000" transform="translate(13.61,237.70) scale(0.7692,1)">)</text>
<text x="3.10" y="262.90" font-size="5.6" fill="#000" font-weight="bold" textLength="36.5" lengthAdjust="spacingAndGlyphs">Sample Group</text>
<rect x="3.00" y="265.00" width="7.70" height="7.70" fill="#ec3a6c"/>
<text x="12" y="271.3" font-size="5.6" fill="#000">GPRC5D<tspan font-size="3.9" dy="-2.2">WT</tspan><tspan dy="2.2" font-size="5.6"></tspan></text>
<rect x="3.00" y="272.60" width="7.70" height="7.70" fill="#6666ff"/>
<text x="12" y="278.9" font-size="5.6" fill="#000">GPRC5D<tspan font-size="3.9" dy="-2.2">WT</tspan><tspan dy="2.2" font-size="5.6"> + Talq</tspan></text>
<rect x="3.00" y="280.20" width="7.70" height="7.70" fill="#ffcc00"/>
<text x="12" y="286.5" font-size="5.6" fill="#000">GPRC5D<tspan font-size="3.9" dy="-2.2">Del/Del</tspan><tspan dy="2.2" font-size="5.6"></tspan></text>
<rect x="3.00" y="287.80" width="7.70" height="7.70" fill="#00bb33"/>
<text x="12" y="294.1" font-size="5.6" fill="#000">GPRC5D<tspan font-size="3.9" dy="-2.2">Del/Del</tspan><tspan dy="2.2" font-size="5.6"> + Talq</tspan></text>
<rect x="69.20" y="294.00" width="19.07" height="10.40" fill="#fbaa6a"/>
<rect x="87.67" y="294.00" width="19.07" height="10.40" fill="#f57e4c"/>
<rect x="106.13" y="294.00" width="18.47" height="10.40" fill="#f99560"/>
<rect x="127.65" y="294.00" width="19.23" height="10.40" fill="#f2f6de"/>
<rect x="146.28" y="294.00" width="18.63" height="10.40" fill="#f0f6e1"/>
<rect x="167.60" y="294.00" width="19.03" height="10.40" fill="#d8edf4"/>
<rect x="186.03" y="294.00" width="19.03" height="10.40" fill="#e5f3f7"/>
<rect x="204.47" y="294.00" width="19.03" height="10.40" fill="#e5f3f7"/>
<rect x="222.90" y="294.00" width="19.03" height="10.40" fill="#e9f4f0"/>
<rect x="241.33" y="294.00" width="19.03" height="10.40" fill="#d8edf4"/>
<rect x="259.77" y="294.00" width="18.43" height="10.40" fill="#e2f2f6"/>
<rect x="69.20" y="303.80" width="19.07" height="10.40" fill="#fbaa6a"/>
<rect x="87.67" y="303.80" width="19.07" height="10.40" fill="#f8905a"/>
<rect x="106.13" y="303.80" width="18.47" height="10.40" fill="#f8905a"/>
<rect x="127.65" y="303.80" width="19.23" height="10.40" fill="#f7f8d1"/>
<rect x="146.28" y="303.80" width="18.63" height="10.40" fill="#f2f6de"/>
<rect x="167.60" y="303.80" width="19.03" height="10.40" fill="#d4ebf3"/>
<rect x="186.03" y="303.80" width="19.03" height="10.40" fill="#e5f3f7"/>
<rect x="204.47" y="303.80" width="19.03" height="10.40" fill="#d4ebf3"/>
<rect x="222.90" y="303.80" width="19.03" height="10.40" fill="#dbeef5"/>
<rect x="241.33" y="303.80" width="19.03" height="10.40" fill="#e5f3f7"/>
<rect x="259.77" y="303.80" width="18.43" height="10.40" fill="#e9f4f0"/>
<rect x="69.20" y="313.60" width="19.07" height="10.40" fill="#fba668"/>
<rect x="87.67" y="313.60" width="19.07" height="10.40" fill="#faa266"/>
<rect x="106.13" y="313.60" width="18.47" height="10.40" fill="#f6844e"/>
<rect x="127.65" y="313.60" width="19.23" height="10.40" fill="#fef0b5"/>
<rect x="146.28" y="313.60" width="18.63" height="10.40" fill="#f7f8d1"/>
<rect x="167.60" y="313.60" width="19.03" height="10.40" fill="#cde8f0"/>
<rect x="186.03" y="313.60" width="19.03" height="10.40" fill="#eef5e6"/>
<rect x="204.47" y="313.60" width="19.03" height="10.40" fill="#d4ebf3"/>
<rect x="222.90" y="313.60" width="19.03" height="10.40" fill="#d8edf4"/>
<rect x="241.33" y="313.60" width="19.03" height="10.40" fill="#e6f3f5"/>
<rect x="259.77" y="313.60" width="18.43" height="10.40" fill="#d4ebf3"/>
<rect x="69.20" y="323.40" width="19.07" height="10.40" fill="#fa9d64"/>
<rect x="87.67" y="323.40" width="19.07" height="10.40" fill="#f99962"/>
<rect x="106.13" y="323.40" width="18.47" height="10.40" fill="#fba668"/>
<rect x="127.65" y="323.40" width="19.23" height="10.40" fill="#fef8be"/>
<rect x="146.28" y="323.40" width="18.63" height="10.40" fill="#fef8be"/>
<rect x="167.60" y="323.40" width="19.03" height="10.40" fill="#c9e6ef"/>
<rect x="186.03" y="323.40" width="19.03" height="10.40" fill="#d8edf4"/>
<rect x="204.47" y="323.40" width="19.03" height="10.40" fill="#d4ebf3"/>
<rect x="222.90" y="323.40" width="19.03" height="10.40" fill="#d8edf4"/>
<rect x="241.33" y="323.40" width="19.03" height="10.40" fill="#d8edf4"/>
<rect x="259.77" y="323.40" width="18.43" height="10.40" fill="#dbeef5"/>
<rect x="69.20" y="333.20" width="19.07" height="10.40" fill="#faa266"/>
<rect x="87.67" y="333.20" width="19.07" height="10.40" fill="#faa266"/>
<rect x="106.13" y="333.20" width="18.47" height="10.40" fill="#f6844e"/>
<rect x="127.65" y="333.20" width="19.23" height="10.40" fill="#fef8be"/>
<rect x="146.28" y="333.20" width="18.63" height="10.40" fill="#faf9cb"/>
<rect x="167.60" y="333.20" width="19.03" height="10.40" fill="#d1e9f1"/>
<rect x="186.03" y="333.20" width="19.03" height="10.40" fill="#e5f3f7"/>
<rect x="204.47" y="333.20" width="19.03" height="10.40" fill="#e9f4f0"/>
<rect x="222.90" y="333.20" width="19.03" height="10.40" fill="#d1e9f1"/>
<rect x="241.33" y="333.20" width="19.03" height="10.40" fill="#cde8f0"/>
<rect x="259.77" y="333.20" width="18.43" height="10.40" fill="#e5f3f7"/>
<rect x="69.20" y="343.00" width="19.07" height="10.40" fill="#fbaa6a"/>
<rect x="87.67" y="343.00" width="19.07" height="10.40" fill="#f99560"/>
<rect x="106.13" y="343.00" width="18.47" height="10.40" fill="#f88c55"/>
<rect x="127.65" y="343.00" width="19.23" height="10.40" fill="#fefac0"/>
<rect x="146.28" y="343.00" width="18.63" height="10.40" fill="#fefac0"/>
<rect x="167.60" y="343.00" width="19.03" height="10.40" fill="#d8edf4"/>
<rect x="186.03" y="343.00" width="19.03" height="10.40" fill="#d8edf4"/>
<rect x="204.47" y="343.00" width="19.03" height="10.40" fill="#e2f2f6"/>
<rect x="222.90" y="343.00" width="19.03" height="10.40" fill="#d8edf4"/>
<rect x="241.33" y="343.00" width="19.03" height="10.40" fill="#d1e9f1"/>
<rect x="259.77" y="343.00" width="18.43" height="10.40" fill="#d4ebf3"/>
<rect x="69.20" y="352.80" width="19.07" height="10.40" fill="#fdca83"/>
<rect x="87.67" y="352.80" width="19.07" height="10.40" fill="#f99560"/>
<rect x="106.13" y="352.80" width="18.47" height="10.40" fill="#f06c45"/>
<rect x="127.65" y="352.80" width="19.23" height="10.40" fill="#fefac0"/>
<rect x="146.28" y="352.80" width="18.63" height="10.40" fill="#f5f8d6"/>
<rect x="167.60" y="352.80" width="19.03" height="10.40" fill="#faf9cb"/>
<rect x="186.03" y="352.80" width="19.03" height="10.40" fill="#ebf4eb"/>
<rect x="204.47" y="352.80" width="19.03" height="10.40" fill="#d4ebf3"/>
<rect x="222.90" y="352.80" width="19.03" height="10.40" fill="#f3f7dc"/>
<rect x="241.33" y="352.80" width="19.03" height="10.40" fill="#a6d2e4"/>
<rect x="259.77" y="352.80" width="18.43" height="10.40" fill="#e5f3f7"/>
<rect x="69.20" y="362.60" width="19.07" height="10.40" fill="#fdd189"/>
<rect x="87.67" y="362.60" width="19.07" height="10.40" fill="#f6844e"/>
<rect x="106.13" y="362.60" width="18.47" height="10.40" fill="#e85e3a"/>
<rect x="127.65" y="362.60" width="19.23" height="10.40" fill="#eef5e6"/>
<rect x="146.28" y="362.60" width="18.63" height="10.40" fill="#eef5e6"/>
<rect x="167.60" y="362.60" width="19.03" height="10.40" fill="#e5f3f7"/>
<rect x="186.03" y="362.60" width="19.03" height="10.40" fill="#f3f7dc"/>
<rect x="204.47" y="362.60" width="19.03" height="10.40" fill="#eef5e6"/>
<rect x="222.90" y="362.60" width="19.03" height="10.40" fill="#e9f4f0"/>
<rect x="241.33" y="362.60" width="19.03" height="10.40" fill="#d8edf4"/>
<rect x="259.77" y="362.60" width="18.43" height="10.40" fill="#e9f4f0"/>
<rect x="69.20" y="372.40" width="19.07" height="10.40" fill="#fcb16e"/>
<rect x="87.67" y="372.40" width="19.07" height="10.40" fill="#f7874f"/>
<rect x="106.13" y="372.40" width="18.47" height="10.40" fill="#f06c45"/>
<rect x="127.65" y="372.40" width="19.23" height="10.40" fill="#eef5e6"/>
<rect x="146.28" y="372.40" width="18.63" height="10.40" fill="#eef5e6"/>
<rect x="167.60" y="372.40" width="19.03" height="10.40" fill="#d4ebf3"/>
<rect x="186.03" y="372.40" width="19.03" height="10.40" fill="#f0f6e1"/>
<rect x="204.47" y="372.40" width="19.03" height="10.40" fill="#eef5e6"/>
<rect x="222.90" y="372.40" width="19.03" height="10.40" fill="#e2f2f6"/>
<rect x="241.33" y="372.40" width="19.03" height="10.40" fill="#d8edf4"/>
<rect x="259.77" y="372.40" width="18.43" height="10.40" fill="#eef5e6"/>
<rect x="69.20" y="382.20" width="19.07" height="10.40" fill="#fdd890"/>
<rect x="87.67" y="382.20" width="19.07" height="10.40" fill="#fdd189"/>
<rect x="106.13" y="382.20" width="18.47" height="10.40" fill="#fdd890"/>
<rect x="127.65" y="382.20" width="19.23" height="10.40" fill="#fcbc75"/>
<rect x="146.28" y="382.20" width="18.63" height="10.40" fill="#fcbc75"/>
<rect x="167.60" y="382.20" width="19.03" height="10.40" fill="#bcdfea"/>
<rect x="186.03" y="382.20" width="19.03" height="10.40" fill="#d8edf4"/>
<rect x="204.47" y="382.20" width="19.03" height="10.40" fill="#cde8f0"/>
<rect x="222.90" y="382.20" width="19.03" height="10.40" fill="#b7dce9"/>
<rect x="241.33" y="382.20" width="19.03" height="10.40" fill="#c9e6ef"/>
<rect x="259.77" y="382.20" width="18.43" height="10.40" fill="#dbeef5"/>
<rect x="69.20" y="392.00" width="19.07" height="10.40" fill="#fcbf79"/>
<rect x="87.67" y="392.00" width="19.07" height="10.40" fill="#fcbc75"/>
<rect x="106.13" y="392.00" width="18.47" height="10.40" fill="#fcb872"/>
<rect x="127.65" y="392.00" width="19.23" height="10.40" fill="#fdd48d"/>
<rect x="146.28" y="392.00" width="18.63" height="10.40" fill="#fdd48d"/>
<rect x="167.60" y="392.00" width="19.03" height="10.40" fill="#c6e4ed"/>
<rect x="186.03" y="392.00" width="19.03" height="10.40" fill="#d1e9f1"/>
<rect x="204.47" y="392.00" width="19.03" height="10.40" fill="#d4ebf3"/>
<rect x="222.90" y="392.00" width="19.03" height="10.40" fill="#d1e9f1"/>
<rect x="241.33" y="392.00" width="19.03" height="10.40" fill="#c2e2ec"/>
<rect x="259.77" y="392.00" width="18.43" height="10.40" fill="#d8edf4"/>
<rect x="69.20" y="401.80" width="19.07" height="10.40" fill="#fbae6c"/>
<rect x="87.67" y="401.80" width="19.07" height="10.40" fill="#fcc67f"/>
<rect x="106.13" y="401.80" width="18.47" height="10.40" fill="#fcbc75"/>
<rect x="127.65" y="401.80" width="19.23" height="10.40" fill="#fdd48d"/>
<rect x="146.28" y="401.80" width="18.63" height="10.40" fill="#feeaae"/>
<rect x="167.60" y="401.80" width="19.03" height="10.40" fill="#d4ebf3"/>
<rect x="186.03" y="401.80" width="19.03" height="10.40" fill="#d4ebf3"/>
<rect x="204.47" y="401.80" width="19.03" height="10.40" fill="#dbeef5"/>
<rect x="222.90" y="401.80" width="19.03" height="10.40" fill="#b1d8e7"/>
<rect x="241.33" y="401.80" width="19.03" height="10.40" fill="#d8edf4"/>
<rect x="259.77" y="401.80" width="18.43" height="10.40" fill="#dbeef5"/>
<rect x="69.20" y="411.60" width="19.07" height="10.40" fill="#fbae6c"/>
<rect x="87.67" y="411.60" width="19.07" height="10.40" fill="#fba668"/>
<rect x="106.13" y="411.60" width="18.47" height="10.40" fill="#fbaa6a"/>
<rect x="127.65" y="411.60" width="19.23" height="10.40" fill="#fee8ab"/>
<rect x="146.28" y="411.60" width="18.63" height="10.40" fill="#fee8ab"/>
<rect x="167.60" y="411.60" width="19.03" height="10.40" fill="#d1e9f1"/>
<rect x="186.03" y="411.60" width="19.03" height="10.40" fill="#e2f2f6"/>
<rect x="204.47" y="411.60" width="19.03" height="10.40" fill="#d8edf4"/>
<rect x="222.90" y="411.60" width="19.03" height="10.40" fill="#d1e9f1"/>
<rect x="241.33" y="411.60" width="19.03" height="10.40" fill="#cde8f0"/>
<rect x="259.77" y="411.60" width="18.43" height="10.40" fill="#d4ebf3"/>
<rect x="69.20" y="421.40" width="19.07" height="10.40" fill="#fdd189"/>
<rect x="87.67" y="421.40" width="19.07" height="10.40" fill="#fcbc75"/>
<rect x="106.13" y="421.40" width="18.47" height="10.40" fill="#f99962"/>
<rect x="127.65" y="421.40" width="19.23" height="10.40" fill="#fcc67f"/>
<rect x="146.28" y="421.40" width="18.63" height="10.40" fill="#feefb3"/>
<rect x="167.60" y="421.40" width="19.03" height="10.40" fill="#b1d8e7"/>
<rect x="186.03" y="421.40" width="19.03" height="10.40" fill="#eef5e6"/>
<rect x="204.47" y="421.40" width="19.03" height="10.40" fill="#dbeef5"/>
<rect x="222.90" y="421.40" width="19.03" height="10.40" fill="#a0cfe2"/>
<rect x="241.33" y="421.40" width="19.03" height="10.40" fill="#d1e9f1"/>
<rect x="259.77" y="421.40" width="18.43" height="10.40" fill="#f5f8d6"/>
<rect x="69.20" y="431.20" width="19.07" height="10.40" fill="#fcbc75"/>
<rect x="87.67" y="431.20" width="19.07" height="10.40" fill="#fcbc75"/>
<rect x="106.13" y="431.20" width="18.47" height="10.40" fill="#fbaa6a"/>
<rect x="127.65" y="431.20" width="19.23" height="10.40" fill="#fdd48d"/>
<rect x="146.28" y="431.20" width="18.63" height="10.40" fill="#feeaae"/>
<rect x="167.60" y="431.20" width="19.03" height="10.40" fill="#b1d8e7"/>
<rect x="186.03" y="431.20" width="19.03" height="10.40" fill="#f7f8d1"/>
<rect x="204.47" y="431.20" width="19.03" height="10.40" fill="#b1d8e7"/>
<rect x="222.90" y="431.20" width="19.03" height="10.40" fill="#c6e4ed"/>
<rect x="241.33" y="431.20" width="19.03" height="10.40" fill="#dbeef5"/>
<rect x="259.77" y="431.20" width="18.43" height="10.40" fill="#e2f2f6"/>
<rect x="69.20" y="441.00" width="19.07" height="10.40" fill="#fdd189"/>
<rect x="87.67" y="441.00" width="19.07" height="10.40" fill="#fddc96"/>
<rect x="106.13" y="441.00" width="18.47" height="10.40" fill="#f7874f"/>
<rect x="127.65" y="441.00" width="19.23" height="10.40" fill="#fcb872"/>
<rect x="146.28" y="441.00" width="18.63" height="10.40" fill="#fefac0"/>
<rect x="167.60" y="441.00" width="19.03" height="10.40" fill="#d1e9f1"/>
<rect x="186.03" y="441.00" width="19.03" height="10.40" fill="#abd5e5"/>
<rect x="204.47" y="441.00" width="19.03" height="10.40" fill="#c6e4ed"/>
<rect x="222.90" y="441.00" width="19.03" height="10.40" fill="#b1d8e7"/>
<rect x="241.33" y="441.00" width="19.03" height="10.40" fill="#eef5e6"/>
<rect x="259.77" y="441.00" width="18.43" height="10.40" fill="#fef5bb"/>
<rect x="69.20" y="450.80" width="19.07" height="10.40" fill="#fbae6c"/>
<rect x="87.67" y="450.80" width="19.07" height="10.40" fill="#fcc67f"/>
<rect x="106.13" y="450.80" width="18.47" height="10.40" fill="#fbaa6a"/>
<rect x="127.65" y="450.80" width="19.23" height="10.40" fill="#fef5bb"/>
<rect x="146.28" y="450.80" width="18.63" height="10.40" fill="#fef4b9"/>
<rect x="167.60" y="450.80" width="19.03" height="10.40" fill="#b7dce9"/>
<rect x="186.03" y="450.80" width="19.03" height="10.40" fill="#d1e9f1"/>
<rect x="204.47" y="450.80" width="19.03" height="10.40" fill="#c2e2ec"/>
<rect x="222.90" y="450.80" width="19.03" height="10.40" fill="#c2e2ec"/>
<rect x="241.33" y="450.80" width="19.03" height="10.40" fill="#fef8be"/>
<rect x="259.77" y="450.80" width="18.43" height="10.40" fill="#d8edf4"/>
<rect x="69.20" y="460.60" width="19.07" height="10.40" fill="#fcb872"/>
<rect x="87.67" y="460.60" width="19.07" height="10.40" fill="#f99962"/>
<rect x="106.13" y="460.60" width="18.47" height="10.40" fill="#f7874f"/>
<rect x="127.65" y="460.60" width="19.23" height="10.40" fill="#fef8be"/>
<rect x="146.28" y="460.60" width="18.63" height="10.40" fill="#f7f8d1"/>
<rect x="167.60" y="460.60" width="19.03" height="10.40" fill="#d1e9f1"/>
<rect x="186.03" y="460.60" width="19.03" height="10.40" fill="#c6e4ed"/>
<rect x="204.47" y="460.60" width="19.03" height="10.40" fill="#dbeef5"/>
<rect x="222.90" y="460.60" width="19.03" height="10.40" fill="#e5f3f7"/>
<rect x="241.33" y="460.60" width="19.03" height="10.40" fill="#e5f3f7"/>
<rect x="259.77" y="460.60" width="18.43" height="10.40" fill="#d8edf4"/>
<rect x="69.20" y="470.40" width="19.07" height="9.80" fill="#fcb872"/>
<rect x="87.67" y="470.40" width="19.07" height="9.80" fill="#fcb872"/>
<rect x="106.13" y="470.40" width="18.47" height="9.80" fill="#f88c55"/>
<rect x="127.65" y="470.40" width="19.23" height="9.80" fill="#feefb3"/>
<rect x="146.28" y="470.40" width="18.63" height="9.80" fill="#f7f8d1"/>
<rect x="167.60" y="470.40" width="19.03" height="9.80" fill="#c2e2ec"/>
<rect x="186.03" y="470.40" width="19.03" height="9.80" fill="#d4ebf3"/>
<rect x="204.47" y="470.40" width="19.03" height="9.80" fill="#d4ebf3"/>
<rect x="222.90" y="470.40" width="19.03" height="9.80" fill="#d4ebf3"/>
<rect x="241.33" y="470.40" width="19.03" height="9.80" fill="#d8edf4"/>
<rect x="259.77" y="470.40" width="18.43" height="9.80" fill="#d8edf4"/>
<rect x="69.20" y="483.30" width="19.07" height="9.80" fill="#d1e9f1"/>
<rect x="87.67" y="483.30" width="19.07" height="9.80" fill="#feefb3"/>
<rect x="106.13" y="483.30" width="18.47" height="9.80" fill="#f7874f"/>
<rect x="127.65" y="483.30" width="19.23" height="9.80" fill="#fddd99"/>
<rect x="146.28" y="483.30" width="18.63" height="9.80" fill="#fcbc75"/>
<rect x="167.60" y="483.30" width="19.03" height="9.80" fill="#f3f7dc"/>
<rect x="186.03" y="483.30" width="19.03" height="9.80" fill="#e2f2f6"/>
<rect x="204.47" y="483.30" width="19.03" height="9.80" fill="#c2e2ec"/>
<rect x="222.90" y="483.30" width="19.03" height="9.80" fill="#a0cfe2"/>
<rect x="241.33" y="483.30" width="19.03" height="9.80" fill="#fdd48d"/>
<rect x="259.77" y="483.30" width="18.43" height="9.80" fill="#dbeef5"/>
<rect x="69.20" y="496.30" width="19.07" height="10.40" fill="#fddc96"/>
<rect x="87.67" y="496.30" width="19.07" height="10.40" fill="#fcbc75"/>
<rect x="106.13" y="496.30" width="18.47" height="10.40" fill="#fdd189"/>
<rect x="127.65" y="496.30" width="19.23" height="10.40" fill="#fef8be"/>
<rect x="146.28" y="496.30" width="18.63" height="10.40" fill="#fcf9c6"/>
<rect x="167.60" y="496.30" width="19.03" height="10.40" fill="#d1e9f1"/>
<rect x="186.03" y="496.30" width="19.03" height="10.40" fill="#e5f3f7"/>
<rect x="204.47" y="496.30" width="19.03" height="10.40" fill="#d8edf4"/>
<rect x="222.90" y="496.30" width="19.03" height="10.40" fill="#d8edf4"/>
<rect x="241.33" y="496.30" width="19.03" height="10.40" fill="#cde8f0"/>
<rect x="259.77" y="496.30" width="18.43" height="10.40" fill="#dbeef5"/>
<rect x="69.20" y="506.10" width="19.07" height="10.40" fill="#f3f7dc"/>
<rect x="87.67" y="506.10" width="19.07" height="10.40" fill="#fdd48d"/>
<rect x="106.13" y="506.10" width="18.47" height="10.40" fill="#feefb3"/>
<rect x="127.65" y="506.10" width="19.23" height="10.40" fill="#fee6a8"/>
<rect x="146.28" y="506.10" width="18.63" height="10.40" fill="#fee6a8"/>
<rect x="167.60" y="506.10" width="19.03" height="10.40" fill="#e5f3f7"/>
<rect x="186.03" y="506.10" width="19.03" height="10.40" fill="#eef5e6"/>
<rect x="204.47" y="506.10" width="19.03" height="10.40" fill="#a0cfe2"/>
<rect x="222.90" y="506.10" width="19.03" height="10.40" fill="#eef5e6"/>
<rect x="241.33" y="506.10" width="19.03" height="10.40" fill="#b7dce9"/>
<rect x="259.77" y="506.10" width="18.43" height="10.40" fill="#feedb2"/>
<rect x="69.20" y="515.90" width="19.07" height="10.40" fill="#eef5e6"/>
<rect x="87.67" y="515.90" width="19.07" height="10.40" fill="#eef5e6"/>
<rect x="106.13" y="515.90" width="18.47" height="10.40" fill="#f0f6e1"/>
<rect x="127.65" y="515.90" width="19.23" height="10.40" fill="#fcc67f"/>
<rect x="146.28" y="515.90" width="18.63" height="10.40" fill="#fdd890"/>
<rect x="167.60" y="515.90" width="19.03" height="10.40" fill="#a0cfe2"/>
<rect x="186.03" y="515.90" width="19.03" height="10.40" fill="#d1e9f1"/>
<rect x="204.47" y="515.90" width="19.03" height="10.40" fill="#fcf9c6"/>
<rect x="222.90" y="515.90" width="19.03" height="10.40" fill="#e5f3f7"/>
<rect x="241.33" y="515.90" width="19.03" height="10.40" fill="#feefb3"/>
<rect x="259.77" y="515.90" width="18.43" height="10.40" fill="#fee5a5"/>
<rect x="69.20" y="525.70" width="19.07" height="10.40" fill="#e2f2f6"/>
<rect x="87.67" y="525.70" width="19.07" height="10.40" fill="#f3f7dc"/>
<rect x="106.13" y="525.70" width="18.47" height="10.40" fill="#f3f7dc"/>
<rect x="127.65" y="525.70" width="19.23" height="10.40" fill="#fef5bb"/>
<rect x="146.28" y="525.70" width="18.63" height="10.40" fill="#f3f7dc"/>
<rect x="167.60" y="525.70" width="19.03" height="10.40" fill="#f3f7dc"/>
<rect x="186.03" y="525.70" width="19.03" height="10.40" fill="#f7f8d1"/>
<rect x="204.47" y="525.70" width="19.03" height="10.40" fill="#fefac0"/>
<rect x="222.90" y="525.70" width="19.03" height="10.40" fill="#f0f6e1"/>
<rect x="241.33" y="525.70" width="19.03" height="10.40" fill="#f7f8d1"/>
<rect x="259.77" y="525.70" width="18.43" height="10.40" fill="#eef5e6"/>
<rect x="69.20" y="535.50" width="19.07" height="10.40" fill="#eef5e6"/>
<rect x="87.67" y="535.50" width="19.07" height="10.40" fill="#edf5e8"/>
<rect x="106.13" y="535.50" width="18.47" height="10.40" fill="#f2f6de"/>
<rect x="127.65" y="535.50" width="19.23" height="10.40" fill="#f5f8d6"/>
<rect x="146.28" y="535.50" width="18.63" height="10.40" fill="#fefac0"/>
<rect x="167.60" y="535.50" width="19.03" height="10.40" fill="#f7f8d1"/>
<rect x="186.03" y="535.50" width="19.03" height="10.40" fill="#f7f8d1"/>
<rect x="204.47" y="535.50" width="19.03" height="10.40" fill="#eef5e6"/>
<rect x="222.90" y="535.50" width="19.03" height="10.40" fill="#eef5e6"/>
<rect x="241.33" y="535.50" width="19.03" height="10.40" fill="#f7f8d1"/>
<rect x="259.77" y="535.50" width="18.43" height="10.40" fill="#fef8be"/>
<rect x="69.20" y="545.30" width="19.07" height="10.40" fill="#d8edf4"/>
<rect x="87.67" y="545.30" width="19.07" height="10.40" fill="#fef2b7"/>
<rect x="106.13" y="545.30" width="18.47" height="10.40" fill="#e5f3f7"/>
<rect x="127.65" y="545.30" width="19.23" height="10.40" fill="#fddd99"/>
<rect x="146.28" y="545.30" width="18.63" height="10.40" fill="#fef2b7"/>
<rect x="167.60" y="545.30" width="19.03" height="10.40" fill="#eef5e6"/>
<rect x="186.03" y="545.30" width="19.03" height="10.40" fill="#cde8f0"/>
<rect x="204.47" y="545.30" width="19.03" height="10.40" fill="#eef5e6"/>
<rect x="222.90" y="545.30" width="19.03" height="10.40" fill="#e2f2f6"/>
<rect x="241.33" y="545.30" width="19.03" height="10.40" fill="#feefb3"/>
<rect x="259.77" y="545.30" width="18.43" height="10.40" fill="#fef5bb"/>
<rect x="69.20" y="555.10" width="19.07" height="10.40" fill="#c2e2ec"/>
<rect x="87.67" y="555.10" width="19.07" height="10.40" fill="#fef8be"/>
<rect x="106.13" y="555.10" width="18.47" height="10.40" fill="#fef8be"/>
<rect x="127.65" y="555.10" width="19.23" height="10.40" fill="#fcc67f"/>
<rect x="146.28" y="555.10" width="18.63" height="10.40" fill="#f3f7dc"/>
<rect x="167.60" y="555.10" width="19.03" height="10.40" fill="#f3f7dc"/>
<rect x="186.03" y="555.10" width="19.03" height="10.40" fill="#e5f3f7"/>
<rect x="204.47" y="555.10" width="19.03" height="10.40" fill="#eaf4ed"/>
<rect x="222.90" y="555.10" width="19.03" height="10.40" fill="#f3f7dc"/>
<rect x="241.33" y="555.10" width="19.03" height="10.40" fill="#f3f7dc"/>
<rect x="259.77" y="555.10" width="18.43" height="10.40" fill="#f5f8d6"/>
<rect x="69.20" y="564.90" width="19.07" height="10.40" fill="#fef8be"/>
<rect x="87.67" y="564.90" width="19.07" height="10.40" fill="#fef8be"/>
<rect x="106.13" y="564.90" width="18.47" height="10.40" fill="#feefb3"/>
<rect x="127.65" y="564.90" width="19.23" height="10.40" fill="#fdda93"/>
<rect x="146.28" y="564.90" width="18.63" height="10.40" fill="#fddf9c"/>
<rect x="167.60" y="564.90" width="19.03" height="10.40" fill="#ebf4eb"/>
<rect x="186.03" y="564.90" width="19.03" height="10.40" fill="#f0f6e1"/>
<rect x="204.47" y="564.90" width="19.03" height="10.40" fill="#e5f3f7"/>
<rect x="222.90" y="564.90" width="19.03" height="10.40" fill="#eef5e6"/>
<rect x="241.33" y="564.90" width="19.03" height="10.40" fill="#c9e6ef"/>
<rect x="259.77" y="564.90" width="18.43" height="10.40" fill="#c2e2ec"/>
<rect x="69.20" y="574.70" width="19.07" height="10.40" fill="#c9e6ef"/>
<rect x="87.67" y="574.70" width="19.07" height="10.40" fill="#f3f7dc"/>
<rect x="106.13" y="574.70" width="18.47" height="10.40" fill="#eef5e6"/>
<rect x="127.65" y="574.70" width="19.23" height="10.40" fill="#fcb872"/>
<rect x="146.28" y="574.70" width="18.63" height="10.40" fill="#fcc67f"/>
<rect x="167.60" y="574.70" width="19.03" height="10.40" fill="#f3f7dc"/>
<rect x="186.03" y="574.70" width="19.03" height="10.40" fill="#e2f2f6"/>
<rect x="204.47" y="574.70" width="19.03" height="10.40" fill="#f3f7dc"/>
<rect x="222.90" y="574.70" width="19.03" height="10.40" fill="#f3f7dc"/>
<rect x="241.33" y="574.70" width="19.03" height="10.40" fill="#d1e9f1"/>
<rect x="259.77" y="574.70" width="18.43" height="10.40" fill="#f0f6e1"/>
<rect x="69.20" y="584.50" width="19.07" height="10.40" fill="#f3f7dc"/>
<rect x="87.67" y="584.50" width="19.07" height="10.40" fill="#f3f7dc"/>
<rect x="106.13" y="584.50" width="18.47" height="10.40" fill="#e6f3f5"/>
<rect x="127.65" y="584.50" width="19.23" height="10.40" fill="#fdda93"/>
<rect x="146.28" y="584.50" width="18.63" height="10.40" fill="#fee6a8"/>
<rect x="167.60" y="584.50" width="19.03" height="10.40" fill="#ebf4eb"/>
<rect x="186.03" y="584.50" width="19.03" height="10.40" fill="#eef5e6"/>
<rect x="204.47" y="584.50" width="19.03" height="10.40" fill="#eef5e6"/>
<rect x="222.90" y="584.50" width="19.03" height="10.40" fill="#e6f3f5"/>
<rect x="241.33" y="584.50" width="19.03" height="10.40" fill="#f3f7dc"/>
<rect x="259.77" y="584.50" width="18.43" height="10.40" fill="#f3f7dc"/>
<rect x="69.20" y="594.30" width="19.07" height="10.40" fill="#e2f2f6"/>
<rect x="87.67" y="594.30" width="19.07" height="10.40" fill="#e6f3f5"/>
<rect x="106.13" y="594.30" width="18.47" height="10.40" fill="#eef5e6"/>
<rect x="127.65" y="594.30" width="19.23" height="10.40" fill="#fdd189"/>
<rect x="146.28" y="594.30" width="18.63" height="10.40" fill="#fdd890"/>
<rect x="167.60" y="594.30" width="19.03" height="10.40" fill="#fef8be"/>
<rect x="186.03" y="594.30" width="19.03" height="10.40" fill="#e5f3f7"/>
<rect x="204.47" y="594.30" width="19.03" height="10.40" fill="#f3f7dc"/>
<rect x="222.90" y="594.30" width="19.03" height="10.40" fill="#fcf9c6"/>
<rect x="241.33" y="594.30" width="19.03" height="10.40" fill="#d8edf4"/>
<rect x="259.77" y="594.30" width="18.43" height="10.40" fill="#e5f3f7"/>
<rect x="69.20" y="604.10" width="19.07" height="10.40" fill="#e2f2f6"/>
<rect x="87.67" y="604.10" width="19.07" height="10.40" fill="#e2f2f6"/>
<rect x="106.13" y="604.10" width="18.47" height="10.40" fill="#eef5e6"/>
<rect x="127.65" y="604.10" width="19.23" height="10.40" fill="#fee6a8"/>
<rect x="146.28" y="604.10" width="18.63" height="10.40" fill="#fee6a8"/>
<rect x="167.60" y="604.10" width="19.03" height="10.40" fill="#fef8be"/>
<rect x="186.03" y="604.10" width="19.03" height="10.40" fill="#eef5e6"/>
<rect x="204.47" y="604.10" width="19.03" height="10.40" fill="#f3f7dc"/>
<rect x="222.90" y="604.10" width="19.03" height="10.40" fill="#fcf9c6"/>
<rect x="241.33" y="604.10" width="19.03" height="10.40" fill="#d8edf4"/>
<rect x="259.77" y="604.10" width="18.43" height="10.40" fill="#eef5e6"/>
<rect x="69.20" y="613.90" width="19.07" height="9.80" fill="#e2f2f6"/>
<rect x="87.67" y="613.90" width="19.07" height="9.80" fill="#e6f3f5"/>
<rect x="106.13" y="613.90" width="18.47" height="9.80" fill="#edf5e8"/>
<rect x="127.65" y="613.90" width="19.23" height="9.80" fill="#fee6a8"/>
<rect x="146.28" y="613.90" width="18.63" height="9.80" fill="#feeaae"/>
<rect x="167.60" y="613.90" width="19.03" height="9.80" fill="#fef8be"/>
<rect x="186.03" y="613.90" width="19.03" height="9.80" fill="#eef5e6"/>
<rect x="204.47" y="613.90" width="19.03" height="9.80" fill="#f3f7dc"/>
<rect x="222.90" y="613.90" width="19.03" height="9.80" fill="#f7f8d1"/>
<rect x="241.33" y="613.90" width="19.03" height="9.80" fill="#e2f2f6"/>
<rect x="259.77" y="613.90" width="18.43" height="9.80" fill="#f0f6e1"/>
<rect x="69.20" y="286.40" width="18.52" height="5.50" fill="#6666ff"/>
<rect x="87.67" y="286.40" width="18.52" height="5.50" fill="#6666ff"/>
<rect x="106.13" y="286.40" width="18.52" height="5.50" fill="#6666ff"/>
<rect x="127.65" y="286.40" width="18.68" height="5.50" fill="#00bb22"/>
<rect x="146.28" y="286.40" width="18.68" height="5.50" fill="#00bb22"/>
<rect x="167.60" y="286.40" width="18.48" height="5.50" fill="#ffcc00"/>
<rect x="186.03" y="286.40" width="18.48" height="5.50" fill="#ee3a6a"/>
<rect x="204.47" y="286.40" width="18.48" height="5.50" fill="#ffcc00"/>
<rect x="222.90" y="286.40" width="18.48" height="5.50" fill="#ffcc00"/>
<rect x="241.33" y="286.40" width="18.48" height="5.50" fill="#ee3a6a"/>
<rect x="259.77" y="286.40" width="18.48" height="5.50" fill="#ee3a6a"/>
<text x="281.00" y="291.00" font-size="5.6" fill="#000" font-weight="bold" textLength="36.0" lengthAdjust="spacingAndGlyphs">Sample Group</text>
<text x="281.00" y="301.00" font-size="4.9" fill="#000" textLength="22.5" lengthAdjust="spacingAndGlyphs" stroke="#000" stroke-width="0.12">CCL7 ab1513</text>
<text x="281.00" y="310.80" font-size="4.9" fill="#000" textLength="22.5" lengthAdjust="spacingAndGlyphs" stroke="#000" stroke-width="0.12">CCL8 ab1691</text>
<text x="281.00" y="320.60" font-size="4.9" fill="#000" textLength="20.5" lengthAdjust="spacingAndGlyphs" stroke="#000" stroke-width="0.12">IL8 ab1643</text>
<text x="281.00" y="330.40" font-size="4.9" fill="#000" textLength="22.5" lengthAdjust="spacingAndGlyphs" stroke="#000" stroke-width="0.12">CCL3 ab1798</text>
<text x="281.00" y="340.20" font-size="4.9" fill="#000" textLength="20.5" lengthAdjust="spacingAndGlyphs" stroke="#000" stroke-width="0.12">IL8 ab1644</text>
<text x="281.00" y="350.00" font-size="4.9" fill="#000" textLength="22.5" lengthAdjust="spacingAndGlyphs" stroke="#000" stroke-width="0.12">CCL2 ab2405</text>
<text x="281.00" y="359.80" font-size="4.9" fill="#000" textLength="22.5" lengthAdjust="spacingAndGlyphs" stroke="#000" stroke-width="0.12">IL10 ab1608</text>
<text x="281.00" y="369.60" font-size="4.9" fill="#000" textLength="22.5" lengthAdjust="spacingAndGlyphs" stroke="#000" stroke-width="0.12">CCL8 ab1727</text>
<text x="281.00" y="379.40" font-size="4.9" fill="#000" textLength="22.5" lengthAdjust="spacingAndGlyphs" stroke="#000" stroke-width="0.12">CCL8 ab1870</text>
<text x="281.00" y="389.20" font-size="4.9" fill="#000" textLength="24.6" lengthAdjust="spacingAndGlyphs" stroke="#000" stroke-width="0.12">CCL24 ab1774</text>
<text x="281.00" y="399.00" font-size="4.9" fill="#000" textLength="24.6" lengthAdjust="spacingAndGlyphs" stroke="#000" stroke-width="0.12">INHBA ab2178</text>
<text x="281.00" y="408.80" font-size="4.9" fill="#000" textLength="20.5" lengthAdjust="spacingAndGlyphs" stroke="#000" stroke-width="0.12">IL8 ab2312</text>
<text x="281.00" y="418.60" font-size="4.9" fill="#000" textLength="22.5" lengthAdjust="spacingAndGlyphs" stroke="#000" stroke-width="0.12">CCL4 ab2091</text>
<text x="281.00" y="428.40" font-size="4.9" fill="#000" textLength="24.6" lengthAdjust="spacingAndGlyphs" stroke="#000" stroke-width="0.12">CCL20 ab1800</text>
<text x="281.00" y="438.20" font-size="4.9" fill="#000" textLength="26.6" lengthAdjust="spacingAndGlyphs" stroke="#000" stroke-width="0.12">CXCL10 ab2503</text>
<text x="281.00" y="448.00" font-size="4.9" fill="#000" textLength="22.5" lengthAdjust="spacingAndGlyphs" stroke="#000" stroke-width="0.12">PLF4 ab1841</text>
<text x="281.00" y="457.80" font-size="4.9" fill="#000" textLength="20.5" lengthAdjust="spacingAndGlyphs" stroke="#000" stroke-width="0.12">IL6 ab1407</text>
<text x="281.00" y="467.60" font-size="4.9" fill="#000" textLength="22.5" lengthAdjust="spacingAndGlyphs" stroke="#000" stroke-width="0.12">IL10 ab1554</text>
<text x="281.00" y="477.40" font-size="4.9" fill="#000" textLength="24.6" lengthAdjust="spacingAndGlyphs" stroke="#000" stroke-width="0.12">CCL17 ab2446</text>
<text x="281.00" y="490.30" font-size="4.9" fill="#000" textLength="24.6" lengthAdjust="spacingAndGlyphs" stroke="#000" stroke-width="0.12">VEGFC ab1178</text>
<text x="281.00" y="503.30" font-size="4.9" fill="#000" textLength="22.5" lengthAdjust="spacingAndGlyphs" stroke="#000" stroke-width="0.12">IFNG ab1646</text>
<text x="281.00" y="513.10" font-size="4.9" fill="#000" textLength="22.5" lengthAdjust="spacingAndGlyphs" stroke="#000" stroke-width="0.12">FGF2 ab1714</text>
<text x="281.00" y="522.90" font-size="4.9" fill="#000" textLength="20.5" lengthAdjust="spacingAndGlyphs" stroke="#000" stroke-width="0.12">IL2 ab1501</text>
<text x="281.00" y="532.70" font-size="4.9" fill="#000" textLength="24.6" lengthAdjust="spacingAndGlyphs" stroke="#000" stroke-width="0.12">CCL15 ab1789</text>
<text x="281.00" y="542.50" font-size="4.9" fill="#000" textLength="22.5" lengthAdjust="spacingAndGlyphs" stroke="#000" stroke-width="0.12">SDF1 ab2491</text>
<text x="281.00" y="552.30" font-size="4.9" fill="#000" textLength="22.5" lengthAdjust="spacingAndGlyphs" stroke="#000" stroke-width="0.12">IL1B ab1686</text>
<text x="281.00" y="562.10" font-size="4.9" fill="#000" textLength="22.5" lengthAdjust="spacingAndGlyphs" stroke="#000" stroke-width="0.12">IL1B ab1687</text>
<text x="281.00" y="571.90" font-size="4.9" fill="#000" textLength="24.6" lengthAdjust="spacingAndGlyphs" stroke="#000" stroke-width="0.12">CXCL9 ab2030</text>
<text x="281.00" y="581.70" font-size="4.9" fill="#000" textLength="24.6" lengthAdjust="spacingAndGlyphs" stroke="#000" stroke-width="0.12">CCL26 ab1878</text>
<text x="281.00" y="591.50" font-size="4.9" fill="#000" textLength="20.5" lengthAdjust="spacingAndGlyphs" stroke="#000" stroke-width="0.12">HGF ab1732</text>
<text x="281.00" y="601.30" font-size="4.9" fill="#000" textLength="34.8" lengthAdjust="spacingAndGlyphs" stroke="#000" stroke-width="0.12">IL34_MOUSE ab1224</text>
<text x="281.00" y="611.10" font-size="4.9" fill="#000" textLength="22.5" lengthAdjust="spacingAndGlyphs" stroke="#000" stroke-width="0.12">IL18 ab1724</text>
<text x="281.00" y="620.90" font-size="4.9" fill="#000" textLength="24.6" lengthAdjust="spacingAndGlyphs" stroke="#000" stroke-width="0.12">TNF11 ab2574</text>
<path d="M96.9,286.4 V280.5 H115.4 V286.4" stroke="#333" stroke-width="0.8" fill="none"/>
<path d="M78.4,286.4 V277.3 H106.1 V280.5" stroke="#333" stroke-width="0.8" fill="none"/>
<path d="M137.0,286.4 V281.4 H155.6 V286.4" stroke="#333" stroke-width="0.8" fill="none"/>
<path d="M250.5,286.4 V280.0 H269.0 V286.4" stroke="#333" stroke-width="0.8" fill="none"/>
<path d="M213.7,286.4 V283.4 H232.1 V286.4" stroke="#333" stroke-width="0.8" fill="none"/>
<path d="M195.2,286.4 V282.6 H222.9 V283.4" stroke="#333" stroke-width="0.8" fill="none"/>
<path d="M176.8,286.4 V281.0 H209.1 V282.6" stroke="#333" stroke-width="0.8" fill="none"/>
<path d="M192.9,281.0 V278.3 H259.8 V280.0" stroke="#333" stroke-width="0.8" fill="none"/>
<path d="M146.3,281.4 V271.1 H226.4 V278.3" stroke="#333" stroke-width="0.8" fill="none"/>
<path d="M92.3,277.3 V263.4 H186.3 V271.1" stroke="#333" stroke-width="0.8" fill="none"/>
<path d="M67.9,298.9 H65.4 V308.7 H67.9" stroke="#333" stroke-width="0.8" fill="none"/>
<path d="M67.9,318.5 H62.0 V328.3 H67.9" stroke="#333" stroke-width="0.8" fill="none"/>
<path d="M67.9,338.1 H64.7 V347.9 H67.9" stroke="#333" stroke-width="0.8" fill="none"/>
<path d="M62.0,323.4 H61.5 V343.0 H64.7" stroke="#333" stroke-width="0.8" fill="none"/>
<path d="M65.4,303.8 H61.0 V333.2 H61.5" stroke="#333" stroke-width="0.8" fill="none"/>
<path d="M67.9,367.5 H63.2 V377.3 H67.9" stroke="#333" stroke-width="0.8" fill="none"/>
<path d="M67.9,357.7 H58.9 V372.4 H63.2" stroke="#333" stroke-width="0.8" fill="none"/>
<path d="M61.0,318.5 H55.0 V365.0 H58.9" stroke="#333" stroke-width="0.8" fill="none"/>
<path d="M67.9,387.1 H61.9 V396.9 H67.9" stroke="#333" stroke-width="0.8" fill="none"/>
<path d="M67.9,406.7 H61.9 V416.5 H67.9" stroke="#333" stroke-width="0.8" fill="none"/>
<path d="M67.9,426.3 H60.4 V436.1 H67.9" stroke="#333" stroke-width="0.8" fill="none"/>
<path d="M61.9,411.6 H57.5 V431.2 H60.4" stroke="#333" stroke-width="0.8" fill="none"/>
<path d="M61.9,392.0 H56.5 V421.4 H57.5" stroke="#333" stroke-width="0.8" fill="none"/>
<path d="M67.9,465.5 H61.3 V475.3 H67.9" stroke="#333" stroke-width="0.8" fill="none"/>
<path d="M67.9,455.7 H58.5 V470.4 H61.3" stroke="#333" stroke-width="0.8" fill="none"/>
<path d="M67.9,445.9 H53.7 V463.0 H58.5" stroke="#333" stroke-width="0.8" fill="none"/>
<path d="M56.5,406.7 H51.2 V454.5 H53.7" stroke="#333" stroke-width="0.8" fill="none"/>
<path d="M55.0,341.8 H42.6 V430.6 H51.2" stroke="#333" stroke-width="0.8" fill="none"/>
<path d="M67.9,501.2 H54.2 V511.0 H67.9" stroke="#333" stroke-width="0.8" fill="none"/>
<path d="M67.9,530.6 H61.5 V540.4 H67.9" stroke="#333" stroke-width="0.8" fill="none"/>
<path d="M67.9,550.2 H58.0 V560.0 H67.9" stroke="#333" stroke-width="0.8" fill="none"/>
<path d="M61.5,535.5 H55.8 V555.1 H58.0" stroke="#333" stroke-width="0.8" fill="none"/>
<path d="M67.9,609.0 H65.4 V618.8 H67.9" stroke="#333" stroke-width="0.8" fill="none"/>
<path d="M67.9,599.2 H62.8 V613.9 H65.4" stroke="#333" stroke-width="0.8" fill="none"/>
<path d="M67.9,589.4 H59.2 V606.5 H62.8" stroke="#333" stroke-width="0.8" fill="none"/>
<path d="M67.9,579.6 H58.5 V598.0 H59.2" stroke="#333" stroke-width="0.8" fill="none"/>
<path d="M67.9,569.8 H55.4 V588.8 H58.5" stroke="#333" stroke-width="0.8" fill="none"/>
<path d="M55.8,545.3 H51.3 V579.3 H55.4" stroke="#333" stroke-width="0.8" fill="none"/>
<path d="M67.9,520.8 H48.4 V562.3 H51.3" stroke="#333" stroke-width="0.8" fill="none"/>
<path d="M54.2,506.1 H44.2 V541.5 H48.4" stroke="#333" stroke-width="0.8" fill="none"/>
<path d="M67.9,488.2 H38.5 V523.8 H44.2" stroke="#333" stroke-width="0.8" fill="none"/>
<path d="M42.6,386.2 H27.4 V506.0 H38.5" stroke="#333" stroke-width="0.8" fill="none"/>
<defs><linearGradient id="cs" x1="0" y1="1" x2="0" y2="0"><stop offset="0.000" stop-color="#4060a8"/><stop offset="0.167" stop-color="#7ab0d5"/><stop offset="0.333" stop-color="#dceef5"/><stop offset="0.500" stop-color="#fffcc0"/><stop offset="0.667" stop-color="#fdc07a"/><stop offset="0.833" stop-color="#f27a50"/><stop offset="1.000" stop-color="#c0283a"/></linearGradient></defs>
<rect x="325.20" y="508.30" width="8.10" height="115.00" fill="url(#cs)"/>
<text x="335.60" y="512.60" font-size="5.4" fill="#111" font-weight="bold">3</text>
<text x="335.60" y="530.97" font-size="5.4" fill="#111" font-weight="bold">2</text>
<text x="335.60" y="549.34" font-size="5.4" fill="#111" font-weight="bold">1</text>
<text x="335.60" y="567.71" font-size="5.4" fill="#111" font-weight="bold">0</text>
<text x="335.60" y="586.08" font-size="5.4" fill="#111" font-weight="bold">−1</text>
<text x="335.60" y="604.45" font-size="5.4" fill="#111" font-weight="bold">−2</text>
<text x="335.60" y="622.82" font-size="5.4" fill="#111" font-weight="bold">−3</text>
<text x="0" y="0" font-size="22.53" fill="#000" transform="translate(350.98,241.60) scale(0.8768,1)">D</text>
<text x="0" y="0" font-size="20.73" fill="#000" transform="translate(366.51,241.40) scale(0.7461,1)">)</text>
<text x="0" y="0" font-size="11.77" fill="#ff0000" font-weight="bold" transform="translate(382.96,266.10) scale(0.9088,1)">GPRC5D</text>
<text x="0" y="0" font-size="7.70" fill="#ff0000" font-weight="bold" transform="translate(427.83,261.80) scale(1.0976,1)">Del/Del</text>
<text x="0" y="0" font-size="7.70" fill="#111" font-weight="bold" transform="translate(457.76,265.30) scale(1.3720,1)">+</text>
<text x="0" y="0" font-size="11.77" fill="#111" font-weight="bold" transform="translate(467.58,266.10) scale(0.9103,1)">T cells</text>
<text x="0" y="0" font-size="8.14" fill="#111" font-weight="bold" transform="translate(400.89,280.50) scale(1.4945,1)">+</text>
<text x="0" y="0" font-size="11.92" fill="#1c40ff" font-weight="bold" transform="translate(411.17,281.30) scale(0.9768,1)">Talquetamab</text>
<text x="0" y="0" font-size="11.63" fill="#70ad47" font-weight="bold" transform="translate(567.26,265.90) scale(0.9232,1)">GPRRC5D</text>
<text x="0" y="0" font-size="6.98" fill="#70ad47" font-weight="bold" transform="translate(619.89,261.90) scale(1.0497,1)">WT</text>
<text x="0" y="0" font-size="8.14" fill="#111" font-weight="bold" transform="translate(631.21,265.20) scale(1.4455,1)">+</text>
<text x="0" y="0" font-size="11.63" fill="#111" font-weight="bold" transform="translate(641.08,265.90) scale(0.9217,1)">T cells</text>
<text x="0" y="0" font-size="8.14" fill="#111" font-weight="bold" transform="translate(580.11,280.30) scale(1.4455,1)">+</text>
<text x="0" y="0" font-size="11.92" fill="#1c40ff" font-weight="bold" transform="translate(590.57,281.00) scale(0.9686,1)">Talquetamab</text>
<line x1="380.90" y1="555.40" x2="677.20" y2="555.40" stroke="#ebebeb" stroke-width="0.9"/>
<line x1="380.90" y1="545.56" x2="677.20" y2="545.56" stroke="#ebebeb" stroke-width="0.6"/>
<line x1="380.90" y1="535.72" x2="677.20" y2="535.72" stroke="#ebebeb" stroke-width="0.9"/>
<line x1="380.90" y1="525.88" x2="677.20" y2="525.88" stroke="#ebebeb" stroke-width="0.6"/>
<line x1="380.90" y1="516.04" x2="677.20" y2="516.04" stroke="#ebebeb" stroke-width="0.9"/>
<line x1="380.90" y1="506.20" x2="677.20" y2="506.20" stroke="#ebebeb" stroke-width="0.6"/>
<line x1="380.90" y1="496.36" x2="677.20" y2="496.36" stroke="#ebebeb" stroke-width="0.9"/>
<line x1="380.90" y1="486.52" x2="677.20" y2="486.52" stroke="#ebebeb" stroke-width="0.6"/>
<line x1="380.90" y1="476.68" x2="677.20" y2="476.68" stroke="#ebebeb" stroke-width="0.9"/>
<line x1="380.90" y1="466.84" x2="677.20" y2="466.84" stroke="#ebebeb" stroke-width="0.6"/>
<line x1="380.90" y1="457.00" x2="677.20" y2="457.00" stroke="#ebebeb" stroke-width="0.9"/>
<line x1="380.90" y1="447.16" x2="677.20" y2="447.16" stroke="#ebebeb" stroke-width="0.6"/>
<line x1="380.90" y1="437.32" x2="677.20" y2="437.32" stroke="#ebebeb" stroke-width="0.9"/>
<line x1="380.90" y1="427.48" x2="677.20" y2="427.48" stroke="#ebebeb" stroke-width="0.6"/>
<line x1="380.90" y1="417.64" x2="677.20" y2="417.64" stroke="#ebebeb" stroke-width="0.9"/>
<line x1="380.90" y1="407.80" x2="677.20" y2="407.80" stroke="#ebebeb" stroke-width="0.6"/>
<line x1="380.90" y1="397.96" x2="677.20" y2="397.96" stroke="#ebebeb" stroke-width="0.9"/>
<line x1="380.90" y1="388.12" x2="677.20" y2="388.12" stroke="#ebebeb" stroke-width="0.6"/>
<line x1="380.90" y1="378.28" x2="677.20" y2="378.28" stroke="#ebebeb" stroke-width="0.9"/>
<line x1="380.90" y1="368.44" x2="677.20" y2="368.44" stroke="#ebebeb" stroke-width="0.6"/>
<line x1="380.90" y1="358.60" x2="677.20" y2="358.60" stroke="#ebebeb" stroke-width="0.9"/>
<line x1="380.90" y1="348.76" x2="677.20" y2="348.76" stroke="#ebebeb" stroke-width="0.6"/>
<line x1="380.90" y1="338.92" x2="677.20" y2="338.92" stroke="#ebebeb" stroke-width="0.9"/>
<line x1="380.90" y1="329.08" x2="677.20" y2="329.08" stroke="#ebebeb" stroke-width="0.6"/>
<line x1="380.90" y1="319.24" x2="677.20" y2="319.24" stroke="#ebebeb" stroke-width="0.9"/>
<line x1="380.90" y1="309.40" x2="677.20" y2="309.40" stroke="#ebebeb" stroke-width="0.6"/>
<line x1="380.90" y1="299.56" x2="677.20" y2="299.56" stroke="#ebebeb" stroke-width="0.9"/>
<line x1="380.90" y1="289.72" x2="677.20" y2="289.72" stroke="#ebebeb" stroke-width="0.6"/>
<line x1="380.90" y1="565.24" x2="677.20" y2="565.24" stroke="#ebebeb" stroke-width="0.6"/>
<line x1="381.90" y1="285.70" x2="381.90" y2="569.30" stroke="#ebebeb" stroke-width="0.9"/>
<line x1="407.50" y1="285.70" x2="407.50" y2="569.30" stroke="#ebebeb" stroke-width="0.6"/>
<line x1="433.10" y1="285.70" x2="433.10" y2="569.30" stroke="#ebebeb" stroke-width="0.9"/>
<line x1="458.70" y1="285.70" x2="458.70" y2="569.30" stroke="#ebebeb" stroke-width="0.6"/>
<line x1="484.30" y1="285.70" x2="484.30" y2="569.30" stroke="#ebebeb" stroke-width="0.9"/>
<line x1="509.90" y1="285.70" x2="509.90" y2="569.30" stroke="#ebebeb" stroke-width="0.6"/>
<line x1="535.50" y1="285.70" x2="535.50" y2="569.30" stroke="#ebebeb" stroke-width="0.9"/>
<line x1="561.10" y1="285.70" x2="561.10" y2="569.30" stroke="#ebebeb" stroke-width="0.6"/>
<line x1="586.70" y1="285.70" x2="586.70" y2="569.30" stroke="#ebebeb" stroke-width="0.9"/>
<line x1="612.30" y1="285.70" x2="612.30" y2="569.30" stroke="#ebebeb" stroke-width="0.6"/>
<line x1="637.90" y1="285.70" x2="637.90" y2="569.30" stroke="#ebebeb" stroke-width="0.9"/>
<line x1="663.50" y1="285.70" x2="663.50" y2="569.30" stroke="#ebebeb" stroke-width="0.6"/>
<line x1="509.90" y1="285.70" x2="509.90" y2="569.30" stroke="#6f6f96" stroke-width="1.3"/>
<line x1="561.10" y1="285.70" x2="561.10" y2="569.30" stroke="#6f6f96" stroke-width="1.3"/>
<line x1="380.90" y1="542.40" x2="677.20" y2="542.40" stroke="#ff0000" stroke-width="1.1"/>
<circle cx="512.3" cy="513.5" r="0.9" fill="#aeaed0"/>
<circle cx="519.2" cy="513.7" r="0.9" fill="#aeaed0"/>
<circle cx="519.0" cy="530.3" r="0.9" fill="#aeaed0"/>
<circle cx="525.8" cy="531.2" r="0.9" fill="#aeaed0"/>
<circle cx="523.3" cy="533.7" r="0.9" fill="#aeaed0"/>
<circle cx="518.2" cy="536.3" r="0.9" fill="#aeaed0"/>
<circle cx="516.2" cy="540.5" r="0.9" fill="#aeaed0"/>
<circle cx="527.0" cy="541.0" r="0.9" fill="#aeaed0"/>
<circle cx="531.0" cy="541.5" r="0.9" fill="#aeaed0"/>
<circle cx="523.0" cy="544.3" r="0.9" fill="#aeaed0"/>
<circle cx="508.0" cy="546.0" r="0.9" fill="#aeaed0"/>
<circle cx="526.5" cy="547.2" r="0.9" fill="#aeaed0"/>
<circle cx="541.7" cy="545.5" r="0.9" fill="#aeaed0"/>
<circle cx="547.0" cy="544.5" r="0.9" fill="#aeaed0"/>
<circle cx="547.3" cy="535.5" r="0.9" fill="#aeaed0"/>
<circle cx="544.8" cy="535.2" r="0.9" fill="#aeaed0"/>
<circle cx="554.2" cy="536.2" r="0.9" fill="#aeaed0"/>
<circle cx="548.5" cy="530.3" r="0.9" fill="#aeaed0"/>
<circle cx="556.3" cy="501.2" r="0.9" fill="#aeaed0"/>
<circle cx="534.3" cy="556.8" r="0.9" fill="#aeaed0"/>
<circle cx="534.4" cy="555.7" r="0.9" fill="#aeaed0"/>
<circle cx="530.4" cy="552.3" r="0.9" fill="#aeaed0"/>
<circle cx="528.4" cy="548.3" r="0.9" fill="#aeaed0"/>
<circle cx="537.5" cy="555.7" r="0.9" fill="#aeaed0"/>
<circle cx="543.5" cy="548.1" r="0.9" fill="#aeaed0"/>
<circle cx="526.7" cy="551.4" r="0.9" fill="#aeaed0"/>
<circle cx="528.9" cy="550.5" r="0.9" fill="#aeaed0"/>
<circle cx="534.6" cy="555.4" r="0.9" fill="#aeaed0"/>
<circle cx="537.5" cy="555.3" r="0.9" fill="#aeaed0"/>
<circle cx="533.8" cy="557.0" r="0.9" fill="#aeaed0"/>
<circle cx="544.4" cy="547.3" r="0.9" fill="#aeaed0"/>
<circle cx="529.9" cy="553.6" r="0.9" fill="#aeaed0"/>
<circle cx="539.5" cy="554.1" r="0.9" fill="#aeaed0"/>
<circle cx="533.9" cy="556.1" r="0.9" fill="#aeaed0"/>
<circle cx="525.5" cy="547.8" r="0.9" fill="#aeaed0"/>
<circle cx="543.2" cy="545.8" r="0.9" fill="#aeaed0"/>
<circle cx="537.8" cy="554.2" r="0.9" fill="#aeaed0"/>
<circle cx="528.2" cy="550.8" r="0.9" fill="#aeaed0"/>
<circle cx="526.4" cy="549.0" r="0.9" fill="#aeaed0"/>
<circle cx="539.6" cy="552.5" r="0.9" fill="#aeaed0"/>
<circle cx="533.5" cy="556.1" r="0.9" fill="#aeaed0"/>
<circle cx="528.6" cy="549.4" r="0.9" fill="#aeaed0"/>
<circle cx="530.4" cy="554.0" r="0.9" fill="#aeaed0"/>
<circle cx="532.0" cy="553.2" r="0.9" fill="#aeaed0"/>
<circle cx="541.5" cy="549.7" r="0.9" fill="#aeaed0"/>
<circle cx="543.0" cy="546.1" r="0.9" fill="#aeaed0"/>
<circle cx="539.5" cy="552.2" r="0.9" fill="#aeaed0"/>
<circle cx="525.9" cy="549.2" r="0.9" fill="#aeaed0"/>
<circle cx="536.5" cy="555.0" r="0.9" fill="#aeaed0"/>
<circle cx="543.0" cy="548.1" r="0.9" fill="#aeaed0"/>
<circle cx="540.8" cy="549.6" r="0.9" fill="#aeaed0"/>
<circle cx="542.8" cy="548.7" r="0.9" fill="#aeaed0"/>
<circle cx="529.1" cy="553.4" r="0.9" fill="#aeaed0"/>
<circle cx="543.7" cy="548.5" r="0.9" fill="#aeaed0"/>
<circle cx="532.8" cy="553.8" r="0.9" fill="#aeaed0"/>
<circle cx="542.6" cy="548.4" r="0.9" fill="#aeaed0"/>
<circle cx="530.8" cy="553.7" r="0.9" fill="#aeaed0"/>
<circle cx="528.9" cy="550.3" r="0.9" fill="#aeaed0"/>
<circle cx="536.7" cy="555.7" r="0.9" fill="#aeaed0"/>
<circle cx="530.5" cy="552.8" r="0.9" fill="#aeaed0"/>
<circle cx="529.9" cy="552.2" r="0.9" fill="#aeaed0"/>
<circle cx="532.8" cy="553.7" r="0.9" fill="#aeaed0"/>
<circle cx="533.4" cy="556.4" r="0.9" fill="#aeaed0"/>
<circle cx="538.1" cy="554.9" r="0.9" fill="#aeaed0"/>
<circle cx="529.0" cy="549.3" r="0.9" fill="#aeaed0"/>
<circle cx="539.5" cy="552.5" r="0.9" fill="#aeaed0"/>
<circle cx="537.4" cy="555.6" r="0.9" fill="#aeaed0"/>
<circle cx="532.9" cy="553.0" r="0.9" fill="#aeaed0"/>
<circle cx="540.0" cy="554.2" r="0.9" fill="#aeaed0"/>
<circle cx="539.2" cy="555.3" r="0.9" fill="#aeaed0"/>
<circle cx="532.8" cy="556.0" r="0.9" fill="#aeaed0"/>
<circle cx="541.4" cy="551.5" r="0.9" fill="#aeaed0"/>
<circle cx="541.5" cy="551.1" r="0.9" fill="#aeaed0"/>
<circle cx="533.1" cy="555.3" r="0.9" fill="#aeaed0"/>
<circle cx="529.0" cy="550.7" r="0.9" fill="#aeaed0"/>
<circle cx="538.8" cy="554.4" r="0.9" fill="#aeaed0"/>
<circle cx="536.3" cy="556.3" r="0.9" fill="#aeaed0"/>
<circle cx="528.5" cy="547.8" r="0.9" fill="#aeaed0"/>
<circle cx="534.1" cy="556.1" r="0.9" fill="#aeaed0"/>
<circle cx="535.2" cy="556.8" r="0.9" fill="#aeaed0"/>
<circle cx="530.3" cy="552.7" r="0.9" fill="#aeaed0"/>
<circle cx="529.6" cy="553.6" r="0.9" fill="#aeaed0"/>
<circle cx="534.8" cy="554.8" r="0.9" fill="#aeaed0"/>
<circle cx="537.3" cy="554.3" r="0.9" fill="#aeaed0"/>
<circle cx="541.2" cy="553.3" r="0.9" fill="#aeaed0"/>
<circle cx="533.1" cy="554.4" r="0.9" fill="#aeaed0"/>
<circle cx="529.6" cy="551.8" r="0.9" fill="#aeaed0"/>
<circle cx="539.6" cy="553.2" r="0.9" fill="#aeaed0"/>
<circle cx="528.2" cy="550.8" r="0.9" fill="#aeaed0"/>
<circle cx="533.7" cy="555.2" r="0.9" fill="#aeaed0"/>
<circle cx="532.3" cy="555.8" r="0.9" fill="#aeaed0"/>
<circle cx="525.2" cy="550.2" r="0.9" fill="#aeaed0"/>
<circle cx="538.8" cy="553.3" r="0.9" fill="#aeaed0"/>
<circle cx="539.2" cy="551.3" r="0.9" fill="#aeaed0"/>
<circle cx="533.3" cy="556.5" r="0.9" fill="#aeaed0"/>
<circle cx="530.0" cy="551.6" r="0.9" fill="#aeaed0"/>
<circle cx="534.3" cy="555.9" r="0.9" fill="#aeaed0"/>
<circle cx="541.3" cy="552.7" r="0.9" fill="#aeaed0"/>
<circle cx="528.2" cy="551.2" r="0.9" fill="#aeaed0"/>
<circle cx="534.9" cy="554.4" r="0.9" fill="#aeaed0"/>
<circle cx="530.7" cy="554.3" r="0.9" fill="#aeaed0"/>
<circle cx="537.5" cy="554.7" r="0.9" fill="#aeaed0"/>
<circle cx="541.0" cy="551.1" r="0.9" fill="#aeaed0"/>
<circle cx="543.1" cy="547.6" r="0.9" fill="#aeaed0"/>
<circle cx="534.4" cy="556.7" r="0.9" fill="#aeaed0"/>
<circle cx="533.0" cy="556.2" r="0.9" fill="#aeaed0"/>
<circle cx="541.1" cy="552.2" r="0.9" fill="#aeaed0"/>
<circle cx="537.1" cy="555.4" r="0.9" fill="#aeaed0"/>
<circle cx="540.9" cy="552.5" r="0.9" fill="#aeaed0"/>
<circle cx="532.2" cy="554.1" r="0.9" fill="#aeaed0"/>
<circle cx="536.2" cy="554.9" r="0.9" fill="#aeaed0"/>
<circle cx="542.9" cy="549.0" r="0.9" fill="#aeaed0"/>
<circle cx="528.3" cy="549.4" r="0.9" fill="#aeaed0"/>
<circle cx="533.8" cy="556.5" r="0.9" fill="#aeaed0"/>
<circle cx="527.4" cy="547.6" r="0.9" fill="#aeaed0"/>
<circle cx="539.3" cy="551.4" r="0.9" fill="#aeaed0"/>
<circle cx="535.7" cy="556.6" r="0.9" fill="#aeaed0"/>
<circle cx="539.2" cy="554.2" r="0.9" fill="#aeaed0"/>
<circle cx="542.1" cy="547.3" r="0.9" fill="#aeaed0"/>
<circle cx="535.0" cy="556.2" r="0.9" fill="#aeaed0"/>
<circle cx="537.5" cy="555.9" r="0.9" fill="#aeaed0"/>
<circle cx="535.7" cy="555.0" r="0.9" fill="#aeaed0"/>
<circle cx="541.9" cy="550.3" r="0.9" fill="#aeaed0"/>
<circle cx="542.1" cy="551.1" r="0.9" fill="#aeaed0"/>
<circle cx="535.7" cy="555.4" r="0.9" fill="#aeaed0"/>
<circle cx="535.3" cy="554.0" r="0.9" fill="#aeaed0"/>
<circle cx="543.3" cy="547.2" r="0.9" fill="#aeaed0"/>
<circle cx="540.4" cy="552.2" r="0.9" fill="#aeaed0"/>
<circle cx="537.5" cy="554.3" r="0.9" fill="#aeaed0"/>
<line x1="380.90" y1="285.70" x2="380.90" y2="569.90" stroke="#444" stroke-width="1.1"/>
<line x1="380.40" y1="569.30" x2="677.20" y2="569.30" stroke="#333" stroke-width="1.1"/>
<text x="373.91" y="560.8" font-size="9.2" fill="#4d4d4d" text-anchor="end">10</text>
<text x="374.01" y="556.2" font-size="7.0" fill="#4d4d4d">0</text>
<text x="369.82" y="541.1" font-size="9.2" fill="#4d4d4d" text-anchor="end">10</text>
<text x="369.92" y="536.5" font-size="7.0" fill="#4d4d4d">−2</text>
<text x="369.82" y="521.4" font-size="9.2" fill="#4d4d4d" text-anchor="end">10</text>
<text x="369.92" y="516.8" font-size="7.0" fill="#4d4d4d">−4</text>
<text x="369.82" y="501.8" font-size="9.2" fill="#4d4d4d" text-anchor="end">10</text>
<text x="369.92" y="497.2" font-size="7.0" fill="#4d4d4d">−6</text>
<text x="369.82" y="482.1" font-size="9.2" fill="#4d4d4d" text-anchor="end">10</text>
<text x="369.92" y="477.5" font-size="7.0" fill="#4d4d4d">−8</text>
<text x="365.93" y="462.4" font-size="9.2" fill="#4d4d4d" text-anchor="end">10</text>
<text x="366.03" y="457.8" font-size="7.0" fill="#4d4d4d">−10</text>
<text x="365.93" y="442.7" font-size="9.2" fill="#4d4d4d" text-anchor="end">10</text>
<text x="366.03" y="438.1" font-size="7.0" fill="#4d4d4d">−12</text>
<text x="365.93" y="423.0" font-size="9.2" fill="#4d4d4d" text-anchor="end">10</text>
<text x="366.03" y="418.4" font-size="7.0" fill="#4d4d4d">−14</text>
<text x="365.93" y="403.4" font-size="9.2" fill="#4d4d4d" text-anchor="end">10</text>
<text x="366.03" y="398.8" font-size="7.0" fill="#4d4d4d">−16</text>
<text x="365.93" y="383.7" font-size="9.2" fill="#4d4d4d" text-anchor="end">10</text>
<text x="366.03" y="379.1" font-size="7.0" fill="#4d4d4d">−18</text>
<text x="365.93" y="364.0" font-size="9.2" fill="#4d4d4d" text-anchor="end">10</text>
<text x="366.03" y="359.4" font-size="7.0" fill="#4d4d4d">−20</text>
<text x="365.93" y="344.3" font-size="9.2" fill="#4d4d4d" text-anchor="end">10</text>
<text x="366.03" y="339.7" font-size="7.0" fill="#4d4d4d">−22</text>
<text x="365.93" y="324.6" font-size="9.2" fill="#4d4d4d" text-anchor="end">10</text>
<text x="366.03" y="320.0" font-size="7.0" fill="#4d4d4d">−24</text>
<text x="365.93" y="305.0" font-size="9.2" fill="#4d4d4d" text-anchor="end">10</text>
<text x="366.03" y="300.4" font-size="7.0" fill="#4d4d4d">−26</text>
<text x="0" y="0" font-size="8.28" fill="#1a1a1a" transform="translate(352.00,439.31) rotate(-90) scale(1.1595,1)">adj. p value</text>
<text x="380.90" y="579.80" font-size="9.4" fill="#4d4d4d" text-anchor="middle">−3</text>
<text x="432.10" y="579.80" font-size="9.4" fill="#4d4d4d" text-anchor="middle">−2</text>
<text x="483.30" y="579.80" font-size="9.4" fill="#4d4d4d" text-anchor="middle">−1</text>
<text x="535.50" y="579.80" font-size="9.4" fill="#4d4d4d" text-anchor="middle">0</text>
<text x="586.70" y="579.80" font-size="9.4" fill="#4d4d4d" text-anchor="middle">1</text>
<text x="637.90" y="579.80" font-size="9.4" fill="#4d4d4d" text-anchor="middle">2</text>
<text x="0" y="0" font-size="12.21" fill="#000" font-weight="bold" transform="translate(495.16,594.40) scale(0.9081,1)">Log-fold change</text>
<circle cx="634.7" cy="301.3" r="1.55" fill="#0000f0"/>
<circle cx="639.9" cy="301.3" r="1.55" fill="#0000f0"/>
<circle cx="645.5" cy="334.3" r="1.55" fill="#0000f0"/>
<circle cx="657.8" cy="342.9" r="1.55" fill="#0000f0"/>
<circle cx="609.6" cy="364.8" r="1.55" fill="#0000f0"/>
<circle cx="582.2" cy="417.4" r="1.55" fill="#0000f0"/>
<circle cx="416.7" cy="437" r="1.55" fill="#0000f0"/>
<circle cx="401.7" cy="452.3" r="1.55" fill="#0000f0"/>
<circle cx="444.3" cy="482.6" r="1.55" fill="#0000f0"/>
<circle cx="442.1" cy="486.4" r="1.55" fill="#0000f0"/>
<circle cx="465" cy="504.5" r="1.55" fill="#0000f0"/>
<circle cx="479.2" cy="521" r="1.55" fill="#0000f0"/>
<circle cx="494.4" cy="493.8" r="1.55" fill="#0000f0"/>
<circle cx="499.3" cy="522" r="1.55" fill="#0000f0"/>
<circle cx="493" cy="527.3" r="1.55" fill="#0000f0"/>
<circle cx="502.3" cy="527.3" r="1.55" fill="#0000f0"/>
<circle cx="504.1" cy="527.7" r="1.55" fill="#0000f0"/>
<circle cx="563.6" cy="470.1" r="1.55" fill="#0000f0"/>
<circle cx="561.3" cy="475.3" r="1.55" fill="#0000f0"/>
<circle cx="569.2" cy="479.8" r="1.55" fill="#0000f0"/>
<circle cx="562.4" cy="483.1" r="1.55" fill="#0000f0"/>
<circle cx="588.9" cy="482" r="1.55" fill="#0000f0"/>
<circle cx="603.5" cy="495.2" r="1.55" fill="#0000f0"/>
<circle cx="561.8" cy="512.7" r="1.55" fill="#0000f0"/>
<circle cx="599" cy="530.3" r="1.55" fill="#0000f0"/>
<text x="619.70" y="298.60" font-size="8.2" fill="#0a0af0" textLength="19.1" lengthAdjust="spacingAndGlyphs">CCL3</text>
<text x="636.50" y="310.90" font-size="8.2" fill="#0a0af0" textLength="18.7" lengthAdjust="spacingAndGlyphs">CCL4</text>
<text x="630.50" y="331.20" font-size="8.2" fill="#0a0af0" textLength="19.0" lengthAdjust="spacingAndGlyphs">CCL2</text>
<text x="654.00" y="352.00" font-size="8.2" fill="#0a0af0" textLength="19.1" lengthAdjust="spacingAndGlyphs">CCL8</text>
<text x="610.00" y="361.90" font-size="8.2" fill="#0a0af0" textLength="10.1" lengthAdjust="spacingAndGlyphs">IL8</text>
<text x="578.60" y="414.20" font-size="8.2" fill="#0a0af0" textLength="18.6" lengthAdjust="spacingAndGlyphs">CCL7</text>
<text x="399.50" y="445.90" font-size="8.2" fill="#0a0af0" textLength="23.5" lengthAdjust="spacingAndGlyphs">CCL28</text>
<text x="384.90" y="461.20" font-size="8.2" fill="#0a0af0" textLength="45.3" lengthAdjust="spacingAndGlyphs">IL34_MOUSE</text>
<text x="438.70" y="479.90" font-size="8.2" fill="#0a0af0" textLength="22.0" lengthAdjust="spacingAndGlyphs">TNF11</text>
<text x="429.70" y="494.90" font-size="8.2" fill="#0a0af0" textLength="14.0" lengthAdjust="spacingAndGlyphs">IL18</text>
<text x="462.70" y="501.60" font-size="8.2" fill="#0a0af0" textLength="15.3" lengthAdjust="spacingAndGlyphs">HGF</text>
<text x="458.50" y="517.90" font-size="8.2" fill="#0a0af0" textLength="23.7" lengthAdjust="spacingAndGlyphs">CXCL9</text>
<text x="494.70" y="490.90" font-size="8.2" fill="#0a0af0" textLength="10.3" lengthAdjust="spacingAndGlyphs">IL2</text>
<text x="487.30" y="517.00" font-size="8.2" fill="#0a0af0" textLength="15.0" lengthAdjust="spacingAndGlyphs">IL1B</text>
<text x="475.70" y="536.40" font-size="8.2" fill="#0a0af0" textLength="15.5" lengthAdjust="spacingAndGlyphs">IL1B</text>
<text x="506.90" y="526.70" font-size="8.2" fill="#0a0af0" textLength="23.1" lengthAdjust="spacingAndGlyphs">CCL15</text>
<text x="496.00" y="537.60" font-size="8.2" fill="#0a0af0" textLength="18.5" lengthAdjust="spacingAndGlyphs">SDF1</text>
<text x="561.30" y="466.90" font-size="8.2" fill="#0a0af0" textLength="14.2" lengthAdjust="spacingAndGlyphs">IL10</text>
<text x="539.60" y="481.90" font-size="8.2" fill="#0a0af0" textLength="18.4" lengthAdjust="spacingAndGlyphs">CCL8</text>
<text x="572.50" y="477.50" font-size="8.2" fill="#0a0af0" textLength="19.1" lengthAdjust="spacingAndGlyphs">CCL8</text>
<text x="551.20" y="492.10" font-size="8.2" fill="#0a0af0" textLength="15.1" lengthAdjust="spacingAndGlyphs">IL10</text>
<text x="583.30" y="490.90" font-size="8.2" fill="#0a0af0" textLength="22.9" lengthAdjust="spacingAndGlyphs">CXL10</text>
<text x="604.40" y="504.40" font-size="8.2" fill="#0a0af0" textLength="9.6" lengthAdjust="spacingAndGlyphs">IL8</text>
<text x="545.00" y="522.10" font-size="8.2" fill="#0a0af0" textLength="22.3" lengthAdjust="spacingAndGlyphs">INHBA</text>
<text x="588.70" y="539.20" font-size="8.2" fill="#0a0af0" textLength="9.7" lengthAdjust="spacingAndGlyphs">IL8</text>
</svg>
</body></html>
